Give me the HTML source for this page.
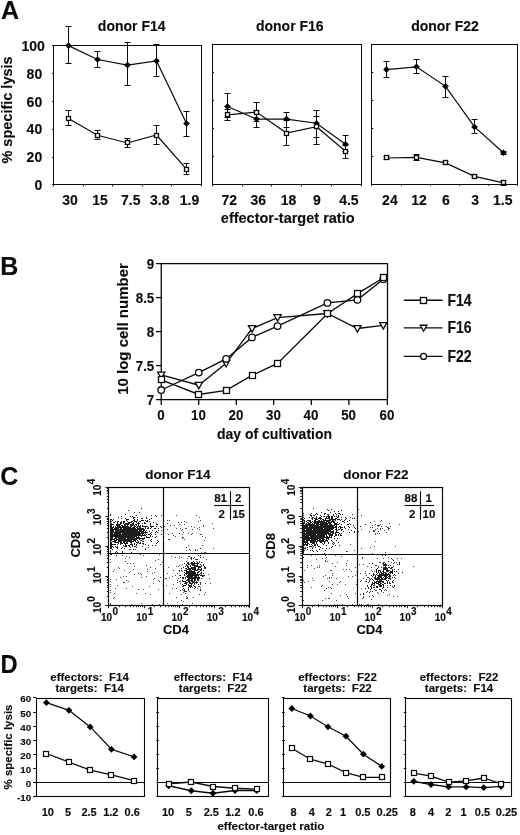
<!DOCTYPE html>
<html><head><meta charset="utf-8"><title>Figure</title>
<style>
html,body{margin:0;padding:0;background:#fff;}
svg{display:block;font-family:"Liberation Sans", sans-serif;fill:#0c0c0c;}
text{stroke:#0c0c0c;stroke-width:0.12px;}
</style></head><body>
<svg width="520" height="835" viewBox="0 0 520 835">
<rect x="0" y="0" width="520" height="835" fill="#fff" stroke="none"/>
<text x="1.00" y="19.20" font-size="25" text-anchor="start" font-weight="bold" stroke="#111" stroke-width="0.4">A</text>
<rect x="53.50" y="45.50" width="148.00" height="139.00" fill="none" stroke="#0a0a0a" stroke-width="1.0"/>
<text x="131.70" y="30.50" font-size="14" text-anchor="middle" font-weight="bold">donor F14</text>
<line x1="52.10" y1="184.50" x2="53.60" y2="184.50" stroke="#0a0a0a" stroke-width="1.0"/>
<text x="42.20" y="190.20" font-size="14" text-anchor="end" font-weight="bold">0</text>
<line x1="52.10" y1="157.50" x2="53.60" y2="157.50" stroke="#0a0a0a" stroke-width="1.0"/>
<text x="42.20" y="162.34" font-size="14" text-anchor="end" font-weight="bold">20</text>
<line x1="52.10" y1="129.50" x2="53.60" y2="129.50" stroke="#0a0a0a" stroke-width="1.0"/>
<text x="42.20" y="134.48" font-size="14" text-anchor="end" font-weight="bold">40</text>
<line x1="52.10" y1="101.50" x2="53.60" y2="101.50" stroke="#0a0a0a" stroke-width="1.0"/>
<text x="42.20" y="106.62" font-size="14" text-anchor="end" font-weight="bold">60</text>
<line x1="52.10" y1="73.50" x2="53.60" y2="73.50" stroke="#0a0a0a" stroke-width="1.0"/>
<text x="42.20" y="78.76" font-size="14" text-anchor="end" font-weight="bold">80</text>
<line x1="52.10" y1="45.50" x2="53.60" y2="45.50" stroke="#0a0a0a" stroke-width="1.0"/>
<text x="44.90" y="51.40" font-size="14" text-anchor="end" font-weight="bold">100</text>
<text x="70.10" y="204.50" font-size="14" text-anchor="middle" font-weight="bold">30</text>
<text x="100.00" y="204.50" font-size="14" text-anchor="middle" font-weight="bold">15</text>
<text x="130.80" y="204.50" font-size="14" text-anchor="middle" font-weight="bold">7.5</text>
<text x="159.70" y="204.50" font-size="14" text-anchor="middle" font-weight="bold">3.8</text>
<text x="189.50" y="204.50" font-size="14" text-anchor="middle" font-weight="bold">1.9</text>
<line x1="53.50" y1="184.90" x2="53.50" y2="186.40" stroke="#0a0a0a" stroke-width="1.0"/>
<line x1="83.50" y1="184.90" x2="83.50" y2="186.40" stroke="#0a0a0a" stroke-width="1.0"/>
<line x1="112.50" y1="184.90" x2="112.50" y2="186.40" stroke="#0a0a0a" stroke-width="1.0"/>
<line x1="142.50" y1="184.90" x2="142.50" y2="186.40" stroke="#0a0a0a" stroke-width="1.0"/>
<line x1="171.50" y1="184.90" x2="171.50" y2="186.40" stroke="#0a0a0a" stroke-width="1.0"/>
<line x1="201.50" y1="184.90" x2="201.50" y2="186.40" stroke="#0a0a0a" stroke-width="1.0"/>
<line x1="68.50" y1="26.10" x2="68.50" y2="63.71" stroke="#0a0a0a" stroke-width="1.0"/>
<line x1="65.50" y1="26.50" x2="71.50" y2="26.50" stroke="#0a0a0a" stroke-width="1.0"/>
<line x1="65.50" y1="63.50" x2="71.50" y2="63.50" stroke="#0a0a0a" stroke-width="1.0"/>
<line x1="68.50" y1="110.79" x2="68.50" y2="125.42" stroke="#0a0a0a" stroke-width="1.0"/>
<line x1="65.50" y1="110.50" x2="71.50" y2="110.50" stroke="#0a0a0a" stroke-width="1.0"/>
<line x1="65.50" y1="125.50" x2="71.50" y2="125.50" stroke="#0a0a0a" stroke-width="1.0"/>
<line x1="97.50" y1="51.17" x2="97.50" y2="67.89" stroke="#0a0a0a" stroke-width="1.0"/>
<line x1="94.50" y1="51.50" x2="100.50" y2="51.50" stroke="#0a0a0a" stroke-width="1.0"/>
<line x1="94.50" y1="67.50" x2="100.50" y2="67.50" stroke="#0a0a0a" stroke-width="1.0"/>
<line x1="97.50" y1="130.43" x2="97.50" y2="139.49" stroke="#0a0a0a" stroke-width="1.0"/>
<line x1="94.50" y1="130.50" x2="100.50" y2="130.50" stroke="#0a0a0a" stroke-width="1.0"/>
<line x1="94.50" y1="139.50" x2="100.50" y2="139.50" stroke="#0a0a0a" stroke-width="1.0"/>
<line x1="127.50" y1="42.81" x2="127.50" y2="86.00" stroke="#0a0a0a" stroke-width="1.0"/>
<line x1="124.50" y1="42.50" x2="130.50" y2="42.50" stroke="#0a0a0a" stroke-width="1.0"/>
<line x1="124.50" y1="85.50" x2="130.50" y2="85.50" stroke="#0a0a0a" stroke-width="1.0"/>
<line x1="127.50" y1="138.79" x2="127.50" y2="147.15" stroke="#0a0a0a" stroke-width="1.0"/>
<line x1="124.50" y1="138.50" x2="130.50" y2="138.50" stroke="#0a0a0a" stroke-width="1.0"/>
<line x1="124.50" y1="147.50" x2="130.50" y2="147.50" stroke="#0a0a0a" stroke-width="1.0"/>
<line x1="156.50" y1="44.21" x2="156.50" y2="76.94" stroke="#0a0a0a" stroke-width="1.0"/>
<line x1="153.50" y1="44.50" x2="159.50" y2="44.50" stroke="#0a0a0a" stroke-width="1.0"/>
<line x1="153.50" y1="76.50" x2="159.50" y2="76.50" stroke="#0a0a0a" stroke-width="1.0"/>
<line x1="156.50" y1="125.98" x2="156.50" y2="144.09" stroke="#0a0a0a" stroke-width="1.0"/>
<line x1="153.50" y1="125.50" x2="159.50" y2="125.50" stroke="#0a0a0a" stroke-width="1.0"/>
<line x1="153.50" y1="144.50" x2="159.50" y2="144.50" stroke="#0a0a0a" stroke-width="1.0"/>
<line x1="186.50" y1="111.07" x2="186.50" y2="136.15" stroke="#0a0a0a" stroke-width="1.0"/>
<line x1="183.50" y1="111.50" x2="189.50" y2="111.50" stroke="#0a0a0a" stroke-width="1.0"/>
<line x1="183.50" y1="136.50" x2="189.50" y2="136.50" stroke="#0a0a0a" stroke-width="1.0"/>
<line x1="186.50" y1="163.59" x2="186.50" y2="174.73" stroke="#0a0a0a" stroke-width="1.0"/>
<line x1="183.50" y1="163.50" x2="189.50" y2="163.50" stroke="#0a0a0a" stroke-width="1.0"/>
<line x1="183.50" y1="174.50" x2="189.50" y2="174.50" stroke="#0a0a0a" stroke-width="1.0"/>
<polyline fill="none" stroke="#0a0a0a" stroke-width="1.2" points="68.50,45.60 97.50,59.53 127.50,65.10 156.50,60.92 186.50,123.61"/>
<polyline fill="none" stroke="#0a0a0a" stroke-width="1.2" points="68.50,118.45 97.50,135.31 127.50,142.97 156.50,135.03 186.50,169.16"/>
<path d="M68.50 42.30L71.80 45.60L68.50 48.90L65.20 45.60Z" fill="#000"/>
<path d="M97.50 56.23L100.80 59.53L97.50 62.83L94.20 59.53Z" fill="#000"/>
<path d="M127.50 61.80L130.80 65.10L127.50 68.40L124.20 65.10Z" fill="#000"/>
<path d="M156.50 57.62L159.80 60.92L156.50 64.22L153.20 60.92Z" fill="#000"/>
<path d="M186.50 120.31L189.80 123.61L186.50 126.91L183.20 123.61Z" fill="#000"/>
<rect x="66.50" y="116.50" width="4" height="4" fill="#fff" stroke="#0a0a0a" stroke-width="1.3"/>
<rect x="95.50" y="133.50" width="4" height="4" fill="#fff" stroke="#0a0a0a" stroke-width="1.3"/>
<rect x="125.50" y="140.50" width="4" height="4" fill="#fff" stroke="#0a0a0a" stroke-width="1.3"/>
<rect x="154.50" y="133.50" width="4" height="4" fill="#fff" stroke="#0a0a0a" stroke-width="1.3"/>
<rect x="184.50" y="167.50" width="4" height="4" fill="#fff" stroke="#0a0a0a" stroke-width="1.3"/>
<rect x="212.50" y="44.50" width="149.00" height="140.00" fill="none" stroke="#0a0a0a" stroke-width="1.0"/>
<text x="289.80" y="30.50" font-size="14" text-anchor="middle" font-weight="bold">donor F16</text>
<line x1="212.50" y1="184.50" x2="214.00" y2="184.50" stroke="#0a0a0a" stroke-width="1.0"/>
<line x1="212.50" y1="156.50" x2="214.00" y2="156.50" stroke="#0a0a0a" stroke-width="1.0"/>
<line x1="212.50" y1="128.50" x2="214.00" y2="128.50" stroke="#0a0a0a" stroke-width="1.0"/>
<line x1="212.50" y1="100.50" x2="214.00" y2="100.50" stroke="#0a0a0a" stroke-width="1.0"/>
<line x1="212.50" y1="72.50" x2="214.00" y2="72.50" stroke="#0a0a0a" stroke-width="1.0"/>
<line x1="212.50" y1="44.50" x2="214.00" y2="44.50" stroke="#0a0a0a" stroke-width="1.0"/>
<text x="229.20" y="204.50" font-size="14" text-anchor="middle" font-weight="bold">72</text>
<text x="258.20" y="204.50" font-size="14" text-anchor="middle" font-weight="bold">36</text>
<text x="288.50" y="204.50" font-size="14" text-anchor="middle" font-weight="bold">18</text>
<text x="316.80" y="204.50" font-size="14" text-anchor="middle" font-weight="bold">9</text>
<text x="348.90" y="204.50" font-size="14" text-anchor="middle" font-weight="bold">4.5</text>
<line x1="212.50" y1="184.90" x2="212.50" y2="186.40" stroke="#0a0a0a" stroke-width="1.0"/>
<line x1="242.50" y1="184.90" x2="242.50" y2="186.40" stroke="#0a0a0a" stroke-width="1.0"/>
<line x1="271.50" y1="184.90" x2="271.50" y2="186.40" stroke="#0a0a0a" stroke-width="1.0"/>
<line x1="301.50" y1="184.90" x2="301.50" y2="186.40" stroke="#0a0a0a" stroke-width="1.0"/>
<line x1="331.50" y1="184.90" x2="331.50" y2="186.40" stroke="#0a0a0a" stroke-width="1.0"/>
<line x1="361.50" y1="184.90" x2="361.50" y2="186.40" stroke="#0a0a0a" stroke-width="1.0"/>
<line x1="227.50" y1="93.83" x2="227.50" y2="117.65" stroke="#0a0a0a" stroke-width="1.0"/>
<line x1="224.50" y1="93.50" x2="230.50" y2="93.50" stroke="#0a0a0a" stroke-width="1.0"/>
<line x1="224.50" y1="117.50" x2="230.50" y2="117.50" stroke="#0a0a0a" stroke-width="1.0"/>
<line x1="227.50" y1="109.25" x2="227.50" y2="120.45" stroke="#0a0a0a" stroke-width="1.0"/>
<line x1="224.50" y1="109.50" x2="230.50" y2="109.50" stroke="#0a0a0a" stroke-width="1.0"/>
<line x1="224.50" y1="120.50" x2="230.50" y2="120.50" stroke="#0a0a0a" stroke-width="1.0"/>
<line x1="256.50" y1="110.65" x2="256.50" y2="127.46" stroke="#0a0a0a" stroke-width="1.0"/>
<line x1="253.50" y1="110.50" x2="259.50" y2="110.50" stroke="#0a0a0a" stroke-width="1.0"/>
<line x1="253.50" y1="127.50" x2="259.50" y2="127.50" stroke="#0a0a0a" stroke-width="1.0"/>
<line x1="256.50" y1="102.24" x2="256.50" y2="121.85" stroke="#0a0a0a" stroke-width="1.0"/>
<line x1="253.50" y1="102.50" x2="259.50" y2="102.50" stroke="#0a0a0a" stroke-width="1.0"/>
<line x1="253.50" y1="121.50" x2="259.50" y2="121.50" stroke="#0a0a0a" stroke-width="1.0"/>
<line x1="286.50" y1="112.05" x2="286.50" y2="127.46" stroke="#0a0a0a" stroke-width="1.0"/>
<line x1="283.50" y1="112.50" x2="289.50" y2="112.50" stroke="#0a0a0a" stroke-width="1.0"/>
<line x1="283.50" y1="127.50" x2="289.50" y2="127.50" stroke="#0a0a0a" stroke-width="1.0"/>
<line x1="286.50" y1="120.45" x2="286.50" y2="145.67" stroke="#0a0a0a" stroke-width="1.0"/>
<line x1="283.50" y1="120.50" x2="289.50" y2="120.50" stroke="#0a0a0a" stroke-width="1.0"/>
<line x1="283.50" y1="145.50" x2="289.50" y2="145.50" stroke="#0a0a0a" stroke-width="1.0"/>
<line x1="316.50" y1="110.65" x2="316.50" y2="137.27" stroke="#0a0a0a" stroke-width="1.0"/>
<line x1="313.50" y1="110.50" x2="319.50" y2="110.50" stroke="#0a0a0a" stroke-width="1.0"/>
<line x1="313.50" y1="137.50" x2="319.50" y2="137.50" stroke="#0a0a0a" stroke-width="1.0"/>
<line x1="316.50" y1="116.25" x2="316.50" y2="144.27" stroke="#0a0a0a" stroke-width="1.0"/>
<line x1="313.50" y1="116.50" x2="319.50" y2="116.50" stroke="#0a0a0a" stroke-width="1.0"/>
<line x1="313.50" y1="144.50" x2="319.50" y2="144.50" stroke="#0a0a0a" stroke-width="1.0"/>
<line x1="345.50" y1="135.87" x2="345.50" y2="151.28" stroke="#0a0a0a" stroke-width="1.0"/>
<line x1="342.50" y1="135.50" x2="348.50" y2="135.50" stroke="#0a0a0a" stroke-width="1.0"/>
<line x1="342.50" y1="151.50" x2="348.50" y2="151.50" stroke="#0a0a0a" stroke-width="1.0"/>
<line x1="345.50" y1="145.67" x2="345.50" y2="158.28" stroke="#0a0a0a" stroke-width="1.0"/>
<line x1="342.50" y1="145.50" x2="348.50" y2="145.50" stroke="#0a0a0a" stroke-width="1.0"/>
<line x1="342.50" y1="158.50" x2="348.50" y2="158.50" stroke="#0a0a0a" stroke-width="1.0"/>
<polyline fill="none" stroke="#0a0a0a" stroke-width="1.2" points="227.50,106.44 256.50,119.05 286.50,119.05 316.50,123.26 345.50,144.27"/>
<polyline fill="none" stroke="#0a0a0a" stroke-width="1.2" points="227.50,114.85 256.50,112.05 286.50,133.06 316.50,126.76 345.50,151.28"/>
<path d="M227.50 103.14L230.80 106.44L227.50 109.74L224.20 106.44Z" fill="#000"/>
<path d="M256.50 115.75L259.80 119.05L256.50 122.35L253.20 119.05Z" fill="#000"/>
<path d="M286.50 115.75L289.80 119.05L286.50 122.35L283.20 119.05Z" fill="#000"/>
<path d="M316.50 119.96L319.80 123.26L316.50 126.56L313.20 123.26Z" fill="#000"/>
<path d="M345.50 140.97L348.80 144.27L345.50 147.57L342.20 144.27Z" fill="#000"/>
<rect x="225.50" y="112.50" width="4" height="4" fill="#fff" stroke="#0a0a0a" stroke-width="1.3"/>
<rect x="254.50" y="110.50" width="4" height="4" fill="#fff" stroke="#0a0a0a" stroke-width="1.3"/>
<rect x="284.50" y="131.50" width="4" height="4" fill="#fff" stroke="#0a0a0a" stroke-width="1.3"/>
<rect x="314.50" y="124.50" width="4" height="4" fill="#fff" stroke="#0a0a0a" stroke-width="1.3"/>
<rect x="343.50" y="149.50" width="4" height="4" fill="#fff" stroke="#0a0a0a" stroke-width="1.3"/>
<rect x="371.50" y="44.50" width="146.00" height="140.00" fill="none" stroke="#0a0a0a" stroke-width="1.0"/>
<text x="445.00" y="30.80" font-size="14" text-anchor="middle" font-weight="bold">donor F22</text>
<line x1="371.80" y1="184.50" x2="373.30" y2="184.50" stroke="#0a0a0a" stroke-width="1.0"/>
<line x1="371.80" y1="156.50" x2="373.30" y2="156.50" stroke="#0a0a0a" stroke-width="1.0"/>
<line x1="371.80" y1="128.50" x2="373.30" y2="128.50" stroke="#0a0a0a" stroke-width="1.0"/>
<line x1="371.80" y1="100.50" x2="373.30" y2="100.50" stroke="#0a0a0a" stroke-width="1.0"/>
<line x1="371.80" y1="72.50" x2="373.30" y2="72.50" stroke="#0a0a0a" stroke-width="1.0"/>
<line x1="371.80" y1="44.50" x2="373.30" y2="44.50" stroke="#0a0a0a" stroke-width="1.0"/>
<text x="389.90" y="204.50" font-size="14" text-anchor="middle" font-weight="bold">24</text>
<text x="419.10" y="204.50" font-size="14" text-anchor="middle" font-weight="bold">12</text>
<text x="445.80" y="204.50" font-size="14" text-anchor="middle" font-weight="bold">6</text>
<text x="475.20" y="204.50" font-size="14" text-anchor="middle" font-weight="bold">3</text>
<text x="502.80" y="204.50" font-size="14" text-anchor="middle" font-weight="bold">1.5</text>
<line x1="371.50" y1="184.30" x2="371.50" y2="185.80" stroke="#0a0a0a" stroke-width="1.0"/>
<line x1="401.50" y1="184.30" x2="401.50" y2="185.80" stroke="#0a0a0a" stroke-width="1.0"/>
<line x1="430.50" y1="184.30" x2="430.50" y2="185.80" stroke="#0a0a0a" stroke-width="1.0"/>
<line x1="459.50" y1="184.30" x2="459.50" y2="185.80" stroke="#0a0a0a" stroke-width="1.0"/>
<line x1="488.50" y1="184.30" x2="488.50" y2="185.80" stroke="#0a0a0a" stroke-width="1.0"/>
<line x1="517.50" y1="184.30" x2="517.50" y2="185.80" stroke="#0a0a0a" stroke-width="1.0"/>
<line x1="386.50" y1="61.19" x2="386.50" y2="77.98" stroke="#0a0a0a" stroke-width="1.0"/>
<line x1="383.50" y1="61.50" x2="389.50" y2="61.50" stroke="#0a0a0a" stroke-width="1.0"/>
<line x1="383.50" y1="77.50" x2="389.50" y2="77.50" stroke="#0a0a0a" stroke-width="1.0"/>
<line x1="386.50" y1="156.60" x2="386.50" y2="159.40" stroke="#0a0a0a" stroke-width="1.0"/>
<line x1="383.50" y1="156.50" x2="389.50" y2="156.50" stroke="#0a0a0a" stroke-width="1.0"/>
<line x1="383.50" y1="159.50" x2="389.50" y2="159.50" stroke="#0a0a0a" stroke-width="1.0"/>
<line x1="416.50" y1="59.79" x2="416.50" y2="73.78" stroke="#0a0a0a" stroke-width="1.0"/>
<line x1="413.50" y1="59.50" x2="419.50" y2="59.50" stroke="#0a0a0a" stroke-width="1.0"/>
<line x1="413.50" y1="73.50" x2="419.50" y2="73.50" stroke="#0a0a0a" stroke-width="1.0"/>
<line x1="416.50" y1="154.50" x2="416.50" y2="160.80" stroke="#0a0a0a" stroke-width="1.0"/>
<line x1="413.50" y1="154.50" x2="419.50" y2="154.50" stroke="#0a0a0a" stroke-width="1.0"/>
<line x1="413.50" y1="160.50" x2="419.50" y2="160.50" stroke="#0a0a0a" stroke-width="1.0"/>
<line x1="445.50" y1="76.58" x2="445.50" y2="97.56" stroke="#0a0a0a" stroke-width="1.0"/>
<line x1="442.50" y1="76.50" x2="448.50" y2="76.50" stroke="#0a0a0a" stroke-width="1.0"/>
<line x1="442.50" y1="97.50" x2="448.50" y2="97.50" stroke="#0a0a0a" stroke-width="1.0"/>
<line x1="445.50" y1="161.50" x2="445.50" y2="164.29" stroke="#0a0a0a" stroke-width="1.0"/>
<line x1="442.50" y1="161.50" x2="448.50" y2="161.50" stroke="#0a0a0a" stroke-width="1.0"/>
<line x1="442.50" y1="164.50" x2="448.50" y2="164.50" stroke="#0a0a0a" stroke-width="1.0"/>
<line x1="474.50" y1="119.95" x2="474.50" y2="133.94" stroke="#0a0a0a" stroke-width="1.0"/>
<line x1="471.50" y1="119.50" x2="477.50" y2="119.50" stroke="#0a0a0a" stroke-width="1.0"/>
<line x1="471.50" y1="133.50" x2="477.50" y2="133.50" stroke="#0a0a0a" stroke-width="1.0"/>
<line x1="474.50" y1="174.93" x2="474.50" y2="177.72" stroke="#0a0a0a" stroke-width="1.0"/>
<line x1="471.50" y1="174.50" x2="477.50" y2="174.50" stroke="#0a0a0a" stroke-width="1.0"/>
<line x1="471.50" y1="177.50" x2="477.50" y2="177.50" stroke="#0a0a0a" stroke-width="1.0"/>
<line x1="503.50" y1="151.42" x2="503.50" y2="154.22" stroke="#0a0a0a" stroke-width="1.0"/>
<line x1="500.50" y1="151.50" x2="506.50" y2="151.50" stroke="#0a0a0a" stroke-width="1.0"/>
<line x1="500.50" y1="154.50" x2="506.50" y2="154.50" stroke="#0a0a0a" stroke-width="1.0"/>
<line x1="503.50" y1="180.10" x2="503.50" y2="185.42" stroke="#0a0a0a" stroke-width="1.0"/>
<line x1="500.50" y1="180.50" x2="506.50" y2="180.50" stroke="#0a0a0a" stroke-width="1.0"/>
<line x1="500.50" y1="185.50" x2="506.50" y2="185.50" stroke="#0a0a0a" stroke-width="1.0"/>
<polyline fill="none" stroke="#0a0a0a" stroke-width="1.2" points="386.50,69.58 416.50,66.78 445.50,86.37 474.50,126.94 503.50,152.82"/>
<polyline fill="none" stroke="#0a0a0a" stroke-width="1.2" points="386.50,158.00 416.50,157.30 445.50,162.90 474.50,176.33 503.50,182.90"/>
<path d="M386.50 66.28L389.80 69.58L386.50 72.88L383.20 69.58Z" fill="#000"/>
<path d="M416.50 63.48L419.80 66.78L416.50 70.08L413.20 66.78Z" fill="#000"/>
<path d="M445.50 83.07L448.80 86.37L445.50 89.67L442.20 86.37Z" fill="#000"/>
<path d="M474.50 123.64L477.80 126.94L474.50 130.24L471.20 126.94Z" fill="#000"/>
<path d="M503.50 149.52L506.80 152.82L503.50 156.12L500.20 152.82Z" fill="#000"/>
<rect x="384.50" y="155.50" width="4" height="4" fill="#fff" stroke="#0a0a0a" stroke-width="1.3"/>
<rect x="414.50" y="155.50" width="4" height="4" fill="#fff" stroke="#0a0a0a" stroke-width="1.3"/>
<rect x="443.50" y="160.50" width="4" height="4" fill="#fff" stroke="#0a0a0a" stroke-width="1.3"/>
<rect x="472.50" y="174.50" width="4" height="4" fill="#fff" stroke="#0a0a0a" stroke-width="1.3"/>
<rect x="501.50" y="180.50" width="4" height="4" fill="#fff" stroke="#0a0a0a" stroke-width="1.3"/>
<text x="12.20" y="110.00" font-size="14.5" text-anchor="middle" font-weight="bold" transform="rotate(-90 12.20 110.00)">% specific lysis</text>
<text x="287.70" y="223.00" font-size="14.5" text-anchor="middle" font-weight="bold">effector-target ratio</text>
<text x="0.30" y="275.20" font-size="25" text-anchor="start" font-weight="bold" stroke="#111" stroke-width="0.4">B</text>
<rect x="161.25" y="263.60" width="226.25" height="136.00" fill="none" stroke="#0a0a0a" stroke-width="1.3"/>
<line x1="155.95" y1="399.60" x2="161.25" y2="399.60" stroke="#0a0a0a" stroke-width="1.3"/>
<text transform="translate(154.25 404.50) scale(0.92 1)" font-size="14.5" text-anchor="end" font-weight="bold">7</text>
<line x1="155.95" y1="365.60" x2="161.25" y2="365.60" stroke="#0a0a0a" stroke-width="1.3"/>
<text transform="translate(154.25 370.50) scale(0.92 1)" font-size="14.5" text-anchor="end" font-weight="bold">7.5</text>
<line x1="155.95" y1="331.60" x2="161.25" y2="331.60" stroke="#0a0a0a" stroke-width="1.3"/>
<text transform="translate(154.25 336.50) scale(0.92 1)" font-size="14.5" text-anchor="end" font-weight="bold">8</text>
<line x1="155.95" y1="297.60" x2="161.25" y2="297.60" stroke="#0a0a0a" stroke-width="1.3"/>
<text transform="translate(154.25 302.50) scale(0.92 1)" font-size="14.5" text-anchor="end" font-weight="bold">8.5</text>
<line x1="155.95" y1="263.60" x2="161.25" y2="263.60" stroke="#0a0a0a" stroke-width="1.3"/>
<text transform="translate(154.25 268.50) scale(0.92 1)" font-size="14.5" text-anchor="end" font-weight="bold">9</text>
<line x1="161.25" y1="399.60" x2="161.25" y2="404.90" stroke="#0a0a0a" stroke-width="1.3"/>
<text transform="translate(160.95 420.30) scale(0.92 1)" font-size="14.5" text-anchor="middle" font-weight="bold">0</text>
<line x1="198.70" y1="399.60" x2="198.70" y2="404.90" stroke="#0a0a0a" stroke-width="1.3"/>
<text transform="translate(198.40 420.30) scale(0.92 1)" font-size="14.5" text-anchor="middle" font-weight="bold">10</text>
<line x1="236.30" y1="399.60" x2="236.30" y2="404.90" stroke="#0a0a0a" stroke-width="1.3"/>
<text transform="translate(236.00 420.30) scale(0.92 1)" font-size="14.5" text-anchor="middle" font-weight="bold">20</text>
<line x1="273.70" y1="399.60" x2="273.70" y2="404.90" stroke="#0a0a0a" stroke-width="1.3"/>
<text transform="translate(273.40 420.30) scale(0.92 1)" font-size="14.5" text-anchor="middle" font-weight="bold">30</text>
<line x1="311.30" y1="399.60" x2="311.30" y2="404.90" stroke="#0a0a0a" stroke-width="1.3"/>
<text transform="translate(311.00 420.30) scale(0.92 1)" font-size="14.5" text-anchor="middle" font-weight="bold">40</text>
<line x1="348.90" y1="399.60" x2="348.90" y2="404.90" stroke="#0a0a0a" stroke-width="1.3"/>
<text transform="translate(348.60 420.30) scale(0.92 1)" font-size="14.5" text-anchor="middle" font-weight="bold">50</text>
<line x1="387.30" y1="399.60" x2="387.30" y2="404.90" stroke="#0a0a0a" stroke-width="1.3"/>
<text transform="translate(387.00 420.30) scale(0.92 1)" font-size="14.5" text-anchor="middle" font-weight="bold">60</text>
<text x="127.60" y="329.00" font-size="15" text-anchor="middle" font-weight="bold" transform="rotate(-90 127.60 329.00)">10 log cell number</text>
<text x="274.50" y="439.30" font-size="14" text-anchor="middle" font-weight="bold">day of cultivation</text>
<polyline fill="none" stroke="#0a0a0a" stroke-width="1.3" points="161.25,379.78 198.76,394.47 226.14,390.37 252.02,375.34 277.53,363.37 327.41,313.82 357.42,293.66 383.30,277.94"/>
<polyline fill="none" stroke="#0a0a0a" stroke-width="1.3" points="161.25,374.99 198.76,385.25 226.14,363.37 252.02,328.52 277.53,317.58 327.41,313.48 357.42,328.52 383.30,325.44"/>
<polyline fill="none" stroke="#0a0a0a" stroke-width="1.3" points="161.25,390.03 198.76,372.60 226.14,358.93 252.02,337.40 277.53,326.12 327.41,302.88 357.42,299.81 383.30,279.30"/>
<path d="M157.65 372.11L164.85 372.11L161.25 378.59Z" fill="#fff" stroke="#0a0a0a" stroke-width="1.3"/>
<path d="M195.16 382.37L202.36 382.37L198.76 388.85Z" fill="#fff" stroke="#0a0a0a" stroke-width="1.3"/>
<path d="M222.54 360.49L229.74 360.49L226.14 366.97Z" fill="#fff" stroke="#0a0a0a" stroke-width="1.3"/>
<path d="M248.42 325.64L255.62 325.64L252.02 332.12Z" fill="#fff" stroke="#0a0a0a" stroke-width="1.3"/>
<path d="M273.93 314.70L281.13 314.70L277.53 321.18Z" fill="#fff" stroke="#0a0a0a" stroke-width="1.3"/>
<path d="M323.81 310.60L331.01 310.60L327.41 317.08Z" fill="#fff" stroke="#0a0a0a" stroke-width="1.3"/>
<path d="M353.82 325.64L361.02 325.64L357.42 332.12Z" fill="#fff" stroke="#0a0a0a" stroke-width="1.3"/>
<path d="M379.70 322.56L386.90 322.56L383.30 329.04Z" fill="#fff" stroke="#0a0a0a" stroke-width="1.3"/>
<circle cx="161.25" cy="390.03" r="3.3" fill="#fff" stroke="#0a0a0a" stroke-width="1.3"/>
<circle cx="198.76" cy="372.60" r="3.3" fill="#fff" stroke="#0a0a0a" stroke-width="1.3"/>
<circle cx="226.14" cy="358.93" r="3.3" fill="#fff" stroke="#0a0a0a" stroke-width="1.3"/>
<circle cx="252.02" cy="337.40" r="3.3" fill="#fff" stroke="#0a0a0a" stroke-width="1.3"/>
<circle cx="277.53" cy="326.12" r="3.3" fill="#fff" stroke="#0a0a0a" stroke-width="1.3"/>
<circle cx="327.41" cy="302.88" r="3.3" fill="#fff" stroke="#0a0a0a" stroke-width="1.3"/>
<circle cx="357.42" cy="299.81" r="3.3" fill="#fff" stroke="#0a0a0a" stroke-width="1.3"/>
<circle cx="383.30" cy="279.30" r="3.3" fill="#fff" stroke="#0a0a0a" stroke-width="1.3"/>
<rect x="158.50" y="376.50" width="6" height="6" fill="#fff" stroke="#0a0a0a" stroke-width="1.3"/>
<rect x="195.50" y="391.50" width="6" height="6" fill="#fff" stroke="#0a0a0a" stroke-width="1.3"/>
<rect x="223.50" y="387.50" width="6" height="6" fill="#fff" stroke="#0a0a0a" stroke-width="1.3"/>
<rect x="249.50" y="372.50" width="6" height="6" fill="#fff" stroke="#0a0a0a" stroke-width="1.3"/>
<rect x="274.50" y="360.50" width="6" height="6" fill="#fff" stroke="#0a0a0a" stroke-width="1.3"/>
<rect x="324.50" y="310.50" width="6" height="6" fill="#fff" stroke="#0a0a0a" stroke-width="1.3"/>
<rect x="354.50" y="290.50" width="6" height="6" fill="#fff" stroke="#0a0a0a" stroke-width="1.3"/>
<rect x="380.50" y="274.50" width="6" height="6" fill="#fff" stroke="#0a0a0a" stroke-width="1.3"/>
<line x1="403.70" y1="300.20" x2="442.50" y2="300.20" stroke="#0a0a0a" stroke-width="1.4"/>
<rect x="420.50" y="297.50" width="6" height="6" fill="#fff" stroke="#0a0a0a" stroke-width="1.3"/>
<text transform="translate(447.40 305.60) scale(0.885 1)" font-size="15.8" text-anchor="start" font-weight="bold">F14</text>
<line x1="403.70" y1="327.90" x2="442.50" y2="327.90" stroke="#0a0a0a" stroke-width="1.4"/>
<path d="M420.30 325.26L426.90 325.26L423.60 331.20Z" fill="#fff" stroke="#0a0a0a" stroke-width="1.3"/>
<text transform="translate(447.40 333.30) scale(0.885 1)" font-size="15.8" text-anchor="start" font-weight="bold">F16</text>
<line x1="403.70" y1="356.40" x2="442.50" y2="356.40" stroke="#0a0a0a" stroke-width="1.4"/>
<circle cx="423.60" cy="356.40" r="3.0" fill="#fff" stroke="#0a0a0a" stroke-width="1.3"/>
<text transform="translate(447.40 361.80) scale(0.885 1)" font-size="15.8" text-anchor="start" font-weight="bold">F22</text>
<text x="0.20" y="485.30" font-size="25" text-anchor="start" font-weight="bold" stroke="#111" stroke-width="0.4">C</text>
<rect x="108.50" y="487.50" width="141.00" height="118.00" fill="none" stroke="#0a0a0a" stroke-width="1.2"/>
<line x1="163.50" y1="487.30" x2="163.50" y2="605.80" stroke="#0a0a0a" stroke-width="1.2"/>
<line x1="108.80" y1="553.50" x2="249.80" y2="553.50" stroke="#0a0a0a" stroke-width="1.2"/>
<text x="178.00" y="478.60" font-size="13.5" text-anchor="middle" font-weight="bold">donor F14</text>
<line x1="108.50" y1="605.80" x2="108.50" y2="608.25" stroke="#0a0a0a" stroke-width="0.9"/>
<line x1="108.80" y1="605.50" x2="105.30" y2="605.50" stroke="#0a0a0a" stroke-width="0.9"/>
<line x1="119.50" y1="605.80" x2="119.50" y2="607.20" stroke="#0a0a0a" stroke-width="0.9"/>
<line x1="108.80" y1="596.50" x2="106.80" y2="596.50" stroke="#0a0a0a" stroke-width="0.9"/>
<line x1="125.50" y1="605.80" x2="125.50" y2="607.20" stroke="#0a0a0a" stroke-width="0.9"/>
<line x1="108.80" y1="591.50" x2="106.80" y2="591.50" stroke="#0a0a0a" stroke-width="0.9"/>
<line x1="130.50" y1="605.80" x2="130.50" y2="607.20" stroke="#0a0a0a" stroke-width="0.9"/>
<line x1="108.80" y1="587.50" x2="106.80" y2="587.50" stroke="#0a0a0a" stroke-width="0.9"/>
<line x1="133.50" y1="605.80" x2="133.50" y2="607.20" stroke="#0a0a0a" stroke-width="0.9"/>
<line x1="108.80" y1="585.50" x2="106.80" y2="585.50" stroke="#0a0a0a" stroke-width="0.9"/>
<line x1="136.50" y1="605.80" x2="136.50" y2="607.20" stroke="#0a0a0a" stroke-width="0.9"/>
<line x1="108.80" y1="582.50" x2="106.80" y2="582.50" stroke="#0a0a0a" stroke-width="0.9"/>
<line x1="138.50" y1="605.80" x2="138.50" y2="607.20" stroke="#0a0a0a" stroke-width="0.9"/>
<line x1="108.80" y1="580.50" x2="106.80" y2="580.50" stroke="#0a0a0a" stroke-width="0.9"/>
<line x1="140.50" y1="605.80" x2="140.50" y2="607.20" stroke="#0a0a0a" stroke-width="0.9"/>
<line x1="108.80" y1="579.50" x2="106.80" y2="579.50" stroke="#0a0a0a" stroke-width="0.9"/>
<line x1="142.50" y1="605.80" x2="142.50" y2="607.20" stroke="#0a0a0a" stroke-width="0.9"/>
<line x1="108.80" y1="577.50" x2="106.80" y2="577.50" stroke="#0a0a0a" stroke-width="0.9"/>
<line x1="144.50" y1="605.80" x2="144.50" y2="608.25" stroke="#0a0a0a" stroke-width="0.9"/>
<line x1="108.80" y1="576.50" x2="105.30" y2="576.50" stroke="#0a0a0a" stroke-width="0.9"/>
<line x1="154.50" y1="605.80" x2="154.50" y2="607.20" stroke="#0a0a0a" stroke-width="0.9"/>
<line x1="108.80" y1="567.50" x2="106.80" y2="567.50" stroke="#0a0a0a" stroke-width="0.9"/>
<line x1="160.50" y1="605.80" x2="160.50" y2="607.20" stroke="#0a0a0a" stroke-width="0.9"/>
<line x1="108.80" y1="562.50" x2="106.80" y2="562.50" stroke="#0a0a0a" stroke-width="0.9"/>
<line x1="165.50" y1="605.80" x2="165.50" y2="607.20" stroke="#0a0a0a" stroke-width="0.9"/>
<line x1="108.80" y1="558.50" x2="106.80" y2="558.50" stroke="#0a0a0a" stroke-width="0.9"/>
<line x1="168.50" y1="605.80" x2="168.50" y2="607.20" stroke="#0a0a0a" stroke-width="0.9"/>
<line x1="108.80" y1="555.50" x2="106.80" y2="555.50" stroke="#0a0a0a" stroke-width="0.9"/>
<line x1="171.50" y1="605.80" x2="171.50" y2="607.20" stroke="#0a0a0a" stroke-width="0.9"/>
<line x1="108.80" y1="553.50" x2="106.80" y2="553.50" stroke="#0a0a0a" stroke-width="0.9"/>
<line x1="173.50" y1="605.80" x2="173.50" y2="607.20" stroke="#0a0a0a" stroke-width="0.9"/>
<line x1="108.80" y1="551.50" x2="106.80" y2="551.50" stroke="#0a0a0a" stroke-width="0.9"/>
<line x1="175.50" y1="605.80" x2="175.50" y2="607.20" stroke="#0a0a0a" stroke-width="0.9"/>
<line x1="108.80" y1="549.50" x2="106.80" y2="549.50" stroke="#0a0a0a" stroke-width="0.9"/>
<line x1="177.50" y1="605.80" x2="177.50" y2="607.20" stroke="#0a0a0a" stroke-width="0.9"/>
<line x1="108.80" y1="547.50" x2="106.80" y2="547.50" stroke="#0a0a0a" stroke-width="0.9"/>
<line x1="179.50" y1="605.80" x2="179.50" y2="608.25" stroke="#0a0a0a" stroke-width="0.9"/>
<line x1="108.80" y1="546.50" x2="105.30" y2="546.50" stroke="#0a0a0a" stroke-width="0.9"/>
<line x1="189.50" y1="605.80" x2="189.50" y2="607.20" stroke="#0a0a0a" stroke-width="0.9"/>
<line x1="108.80" y1="537.50" x2="106.80" y2="537.50" stroke="#0a0a0a" stroke-width="0.9"/>
<line x1="196.50" y1="605.80" x2="196.50" y2="607.20" stroke="#0a0a0a" stroke-width="0.9"/>
<line x1="108.80" y1="532.50" x2="106.80" y2="532.50" stroke="#0a0a0a" stroke-width="0.9"/>
<line x1="200.50" y1="605.80" x2="200.50" y2="607.20" stroke="#0a0a0a" stroke-width="0.9"/>
<line x1="108.80" y1="528.50" x2="106.80" y2="528.50" stroke="#0a0a0a" stroke-width="0.9"/>
<line x1="203.50" y1="605.80" x2="203.50" y2="607.20" stroke="#0a0a0a" stroke-width="0.9"/>
<line x1="108.80" y1="525.50" x2="106.80" y2="525.50" stroke="#0a0a0a" stroke-width="0.9"/>
<line x1="206.50" y1="605.80" x2="206.50" y2="607.20" stroke="#0a0a0a" stroke-width="0.9"/>
<line x1="108.80" y1="523.50" x2="106.80" y2="523.50" stroke="#0a0a0a" stroke-width="0.9"/>
<line x1="209.50" y1="605.80" x2="209.50" y2="607.20" stroke="#0a0a0a" stroke-width="0.9"/>
<line x1="108.80" y1="521.50" x2="106.80" y2="521.50" stroke="#0a0a0a" stroke-width="0.9"/>
<line x1="211.50" y1="605.80" x2="211.50" y2="607.20" stroke="#0a0a0a" stroke-width="0.9"/>
<line x1="108.80" y1="519.50" x2="106.80" y2="519.50" stroke="#0a0a0a" stroke-width="0.9"/>
<line x1="212.50" y1="605.80" x2="212.50" y2="607.20" stroke="#0a0a0a" stroke-width="0.9"/>
<line x1="108.80" y1="518.50" x2="106.80" y2="518.50" stroke="#0a0a0a" stroke-width="0.9"/>
<line x1="214.50" y1="605.80" x2="214.50" y2="608.25" stroke="#0a0a0a" stroke-width="0.9"/>
<line x1="108.80" y1="516.50" x2="105.30" y2="516.50" stroke="#0a0a0a" stroke-width="0.9"/>
<line x1="225.50" y1="605.80" x2="225.50" y2="607.20" stroke="#0a0a0a" stroke-width="0.9"/>
<line x1="108.80" y1="508.50" x2="106.80" y2="508.50" stroke="#0a0a0a" stroke-width="0.9"/>
<line x1="231.50" y1="605.80" x2="231.50" y2="607.20" stroke="#0a0a0a" stroke-width="0.9"/>
<line x1="108.80" y1="502.50" x2="106.80" y2="502.50" stroke="#0a0a0a" stroke-width="0.9"/>
<line x1="235.50" y1="605.80" x2="235.50" y2="607.20" stroke="#0a0a0a" stroke-width="0.9"/>
<line x1="108.80" y1="499.50" x2="106.80" y2="499.50" stroke="#0a0a0a" stroke-width="0.9"/>
<line x1="239.50" y1="605.80" x2="239.50" y2="607.20" stroke="#0a0a0a" stroke-width="0.9"/>
<line x1="108.80" y1="496.50" x2="106.80" y2="496.50" stroke="#0a0a0a" stroke-width="0.9"/>
<line x1="241.50" y1="605.80" x2="241.50" y2="607.20" stroke="#0a0a0a" stroke-width="0.9"/>
<line x1="108.80" y1="493.50" x2="106.80" y2="493.50" stroke="#0a0a0a" stroke-width="0.9"/>
<line x1="244.50" y1="605.80" x2="244.50" y2="607.20" stroke="#0a0a0a" stroke-width="0.9"/>
<line x1="108.80" y1="491.50" x2="106.80" y2="491.50" stroke="#0a0a0a" stroke-width="0.9"/>
<line x1="246.50" y1="605.80" x2="246.50" y2="607.20" stroke="#0a0a0a" stroke-width="0.9"/>
<line x1="108.80" y1="490.50" x2="106.80" y2="490.50" stroke="#0a0a0a" stroke-width="0.9"/>
<line x1="248.50" y1="605.80" x2="248.50" y2="607.20" stroke="#0a0a0a" stroke-width="0.9"/>
<line x1="108.80" y1="488.50" x2="106.80" y2="488.50" stroke="#0a0a0a" stroke-width="0.9"/>
<line x1="249.50" y1="605.80" x2="249.50" y2="608.30" stroke="#0a0a0a" stroke-width="0.9"/>
<line x1="108.80" y1="487.50" x2="105.30" y2="487.50" stroke="#0a0a0a" stroke-width="0.9"/>
<text x="101.00" y="621.00" font-size="10" text-anchor="start" font-weight="bold" stroke="#111" stroke-width="0.35">10<tspan dx="0.3" dy="-5.6" font-size="10">0</tspan></text>
<text x="100.80" y="613.10" font-size="10" text-anchor="start" font-weight="bold" stroke="#111" stroke-width="0.35" transform="rotate(-90 100.80 613.10)">10<tspan dx="0.3" dy="-5.6" font-size="10">0</tspan></text>
<text x="136.25" y="621.00" font-size="10" text-anchor="start" font-weight="bold" stroke="#111" stroke-width="0.35">10<tspan dx="0.3" dy="-5.6" font-size="10">1</tspan></text>
<text x="100.80" y="583.47" font-size="10" text-anchor="start" font-weight="bold" stroke="#111" stroke-width="0.35" transform="rotate(-90 100.80 583.47)">10<tspan dx="0.3" dy="-5.6" font-size="10">1</tspan></text>
<text x="171.50" y="621.00" font-size="10" text-anchor="start" font-weight="bold" stroke="#111" stroke-width="0.35">10<tspan dx="0.3" dy="-5.6" font-size="10">2</tspan></text>
<text x="100.80" y="554.95" font-size="10" text-anchor="start" font-weight="bold" stroke="#111" stroke-width="0.35" transform="rotate(-90 100.80 554.95)">10<tspan dx="0.3" dy="-5.6" font-size="10">2</tspan></text>
<text x="206.75" y="621.00" font-size="10" text-anchor="start" font-weight="bold" stroke="#111" stroke-width="0.35">10<tspan dx="0.3" dy="-5.6" font-size="10">3</tspan></text>
<text x="100.80" y="525.32" font-size="10" text-anchor="start" font-weight="bold" stroke="#111" stroke-width="0.35" transform="rotate(-90 100.80 525.32)">10<tspan dx="0.3" dy="-5.6" font-size="10">3</tspan></text>
<text x="242.00" y="621.00" font-size="10" text-anchor="start" font-weight="bold" stroke="#111" stroke-width="0.35">10<tspan dx="0.3" dy="-5.6" font-size="10">4</tspan></text>
<text x="100.80" y="495.70" font-size="10" text-anchor="start" font-weight="bold" stroke="#111" stroke-width="0.35" transform="rotate(-90 100.80 495.70)">10<tspan dx="0.3" dy="-5.6" font-size="10">4</tspan></text>
<text x="176.00" y="633.80" font-size="13" text-anchor="middle" font-weight="bold">CD4</text>
<text x="80.00" y="544.50" font-size="13" text-anchor="middle" font-weight="bold" transform="rotate(-90 80.00 544.50)">CD8</text>
<line x1="230.50" y1="491.30" x2="230.50" y2="519.60" stroke="#0a0a0a" stroke-width="1.1"/>
<line x1="214.20" y1="505.50" x2="243.80" y2="505.50" stroke="#0a0a0a" stroke-width="1.1"/>
<text x="227.00" y="501.80" font-size="11.5" text-anchor="end" font-weight="bold" stroke="#111" stroke-width="0.3">81</text>
<text x="235.00" y="501.80" font-size="11.5" text-anchor="start" font-weight="bold" stroke="#111" stroke-width="0.3">2</text>
<text x="225.00" y="517.50" font-size="11.5" text-anchor="end" font-weight="bold" stroke="#111" stroke-width="0.3">2</text>
<text x="232.20" y="517.50" font-size="11.5" text-anchor="start" font-weight="bold" stroke="#111" stroke-width="0.3">15</text>
<path d="M122 531.5h1M122 535.5h1M116 535.5h1M134 531.5h1M133 532.5h1M128 532.5h1M110 530.5h1M129 531.5h1M110 541.5h1M117 536.5h1M127 533.5h1M129 536.5h1M127 532.5h1M119 526.5h1M129 528.5h1M119 537.5h1M121 534.5h1M130 532.5h1M121 537.5h1M120 528.5h1M117 533.5h1M128 539.5h1M125 528.5h1M110 535.5h1M117 532.5h1M124 539.5h1M131 530.5h1M132 527.5h1M113 531.5h1M119 535.5h1M114 538.5h1M110 540.5h1M137 530.5h1M110 544.5h1M118 538.5h1M133 528.5h1M126 532.5h1M128 527.5h1M130 531.5h1M129 540.5h1M135 529.5h1M129 541.5h1M119 530.5h1M113 527.5h1M129 534.5h1M127 530.5h1M125 529.5h1M133 533.5h1M117 530.5h1M137 535.5h1M113 534.5h1M123 535.5h1M136 537.5h1M135 538.5h1M118 531.5h1M134 529.5h1M126 531.5h1M123 532.5h1M129 533.5h1M131 531.5h1M141 531.5h1M121 535.5h1M124 530.5h1M121 532.5h1M140 543.5h1M115 533.5h1M121 531.5h1M127 535.5h1M145 531.5h1M120 534.5h1M122 534.5h1M110 536.5h1M114 534.5h1M132 529.5h1M137 540.5h1M130 529.5h1M130 539.5h1M126 528.5h1M123 533.5h1M131 532.5h1M124 527.5h1M133 534.5h1M148 537.5h1M132 534.5h1M125 530.5h1M111 540.5h1M130 537.5h1M116 540.5h1M135 530.5h1M137 537.5h1M124 538.5h1M131 526.5h1M117 527.5h1M110 528.5h1M119 532.5h1M116 529.5h1M137 527.5h1M123 536.5h1M125 527.5h1M122 543.5h1M121 541.5h1M119 534.5h1M131 533.5h1M136 533.5h1M133 527.5h1M138 535.5h1M132 541.5h1M115 542.5h1M133 538.5h1M124 534.5h1M124 536.5h1M126 526.5h1M125 531.5h1M114 536.5h1M133 540.5h1M119 529.5h1M114 540.5h1M120 537.5h1M118 540.5h1M123 538.5h1M127 543.5h1M127 536.5h1M110 531.5h1M110 538.5h1M120 530.5h1M127 528.5h1M141 540.5h1M128 523.5h1M116 531.5h1M140 533.5h1M129 529.5h1M117 534.5h1M132 533.5h1M117 537.5h1M147 528.5h1M130 544.5h1M139 531.5h1M124 531.5h1M118 528.5h1M140 538.5h1M126 535.5h1M116 525.5h1M133 525.5h1M131 537.5h1M127 542.5h1M118 534.5h1M123 531.5h1M127 531.5h1M126 533.5h1M126 534.5h1M114 532.5h1M133 531.5h1M116 542.5h1M125 537.5h1M110 539.5h1M121 539.5h1M129 532.5h1M138 529.5h1M133 537.5h1M123 530.5h1M122 529.5h1M123 523.5h1M135 534.5h1M125 523.5h1M121 530.5h1M114 533.5h1M127 529.5h1M132 531.5h1M115 536.5h1M121 542.5h1M119 531.5h1M122 539.5h1M140 530.5h1M134 536.5h1M123 541.5h1M131 529.5h1M110 534.5h1M110 542.5h1M119 539.5h1M125 532.5h1M130 530.5h1M137 528.5h1M113 536.5h1M115 538.5h1M124 533.5h1M128 540.5h1M123 545.5h1M116 534.5h1M112 533.5h1M126 539.5h1M128 531.5h1M124 537.5h1M123 534.5h1M118 539.5h1M115 534.5h1M120 533.5h1M129 535.5h1M144 534.5h1M134 532.5h1M134 543.5h1M118 533.5h1M129 523.5h1M129 538.5h1M134 537.5h1M126 524.5h1M122 533.5h1M134 533.5h1M129 530.5h1M118 526.5h1M138 533.5h1M136 536.5h1M130 535.5h1M124 532.5h1M120 524.5h1M110 527.5h1M111 529.5h1M112 534.5h1M122 537.5h1M118 537.5h1M142 535.5h1M124 522.5h1M122 532.5h1M116 538.5h1M130 536.5h1M123 539.5h1M130 525.5h1M123 527.5h1M124 541.5h1M136 529.5h1M112 535.5h1M116 539.5h1M120 536.5h1M113 535.5h1M120 532.5h1M121 529.5h1M136 534.5h1M131 536.5h1M137 534.5h1M122 536.5h1M131 534.5h1M127 526.5h1M119 524.5h1M126 529.5h1M114 542.5h1M130 522.5h1M138 538.5h1M121 548.5h1M131 535.5h1M132 524.5h1M125 533.5h1M128 534.5h1M130 534.5h1M115 528.5h1M128 537.5h1M111 527.5h1M111 530.5h1M125 534.5h1M124 542.5h1M122 530.5h1M139 532.5h1M135 536.5h1M145 535.5h1M115 532.5h1M129 539.5h1M131 539.5h1M118 536.5h1M125 535.5h1M129 527.5h1M135 532.5h1M113 524.5h1M143 541.5h1M132 530.5h1M122 538.5h1M128 536.5h1M117 535.5h1M134 526.5h1M118 535.5h1M113 532.5h1M132 535.5h1M123 526.5h1M115 537.5h1M124 528.5h1M121 536.5h1M127 538.5h1M131 528.5h1M118 532.5h1M117 524.5h1M120 529.5h1M143 543.5h1M143 532.5h1M110 529.5h1M125 539.5h1M130 542.5h1M146 536.5h1M126 536.5h1M135 531.5h1M116 537.5h1M119 536.5h1M115 531.5h1M116 532.5h1M136 532.5h1M126 540.5h1M119 533.5h1M142 543.5h1M133 522.5h1M125 536.5h1M141 536.5h1M132 537.5h1M111 538.5h1M141 535.5h1M135 535.5h1M118 541.5h1M118 527.5h1M143 528.5h1M128 526.5h1M130 528.5h1M135 539.5h1M131 525.5h1M111 526.5h1M128 533.5h1M127 537.5h1M136 535.5h1M124 543.5h1M112 544.5h1M110 533.5h1M141 528.5h1M140 527.5h1M120 539.5h1M120 540.5h1M114 528.5h1M140 529.5h1M142 538.5h1M133 539.5h1M122 527.5h1M134 534.5h1M131 538.5h1M111 531.5h1M117 528.5h1M130 533.5h1M126 545.5h1M137 533.5h1M145 533.5h1M115 529.5h1M110 537.5h1M119 540.5h1M134 540.5h1M112 536.5h1M138 536.5h1M112 532.5h1M132 532.5h1M138 534.5h1M142 526.5h1M139 533.5h1M128 528.5h1M112 530.5h1M121 538.5h1M113 530.5h1M112 537.5h1M132 538.5h1M127 540.5h1M126 537.5h1M137 538.5h1M133 524.5h1M141 533.5h1M127 534.5h1M133 529.5h1M138 528.5h1M139 535.5h1M113 539.5h1M134 530.5h1M127 527.5h1M117 526.5h1M130 527.5h1M139 534.5h1M111 532.5h1M111 535.5h1M125 538.5h1M125 541.5h1M120 526.5h1M123 537.5h1M115 527.5h1M118 530.5h1M128 529.5h1M119 538.5h1M112 529.5h1M116 536.5h1M114 535.5h1M131 540.5h1M112 541.5h1M128 538.5h1M126 527.5h1M125 526.5h1M140 525.5h1M119 527.5h1M110 532.5h1M146 532.5h1M137 529.5h1M132 539.5h1M121 523.5h1M133 535.5h1M140 534.5h1M131 541.5h1M117 542.5h1M124 526.5h1M124 529.5h1M124 521.5h1M116 527.5h1M111 537.5h1M150 535.5h1M139 538.5h1M127 539.5h1M112 538.5h1M143 530.5h1M128 524.5h1M136 539.5h1M129 537.5h1M135 526.5h1M123 529.5h1M128 530.5h1M142 525.5h1M141 529.5h1M111 525.5h1M133 530.5h1M130 538.5h1M117 529.5h1M114 529.5h1M133 541.5h1M132 544.5h1M143 535.5h1M120 538.5h1M132 528.5h1M134 535.5h1M114 539.5h1M149 534.5h1M138 532.5h1M134 539.5h1M113 544.5h1M116 530.5h1M128 541.5h1M120 527.5h1M117 548.5h1M117 539.5h1M116 528.5h1M110 524.5h1M122 540.5h1M115 535.5h1M136 547.5h1M120 531.5h1M127 541.5h1M130 526.5h1M127 525.5h1M118 542.5h1M111 544.5h1M140 540.5h1M135 540.5h1M139 530.5h1M144 535.5h1M124 535.5h1M118 529.5h1M139 537.5h1M133 536.5h1M111 533.5h1M142 532.5h1M137 531.5h1M120 541.5h1M119 525.5h1M111 536.5h1M126 541.5h1M135 533.5h1M110 547.5h1M116 533.5h1M133 518.5h1M145 520.5h1M137 542.5h1M121 528.5h1M113 526.5h1M130 541.5h1M110 519.5h1M117 552.5h1M139 529.5h1M124 524.5h1M121 522.5h1M111 546.5h1M121 525.5h1M118 525.5h1M157 532.5h1M152 545.5h1M120 523.5h1M142 533.5h1M110 521.5h1M111 524.5h1M136 538.5h1M139 539.5h1M134 538.5h1M113 522.5h1M144 530.5h1M123 542.5h1M144 523.5h1M129 546.5h1M136 542.5h1M118 521.5h1M142 534.5h1M131 522.5h1M140 521.5h1M110 526.5h1M112 527.5h1M112 520.5h1M111 528.5h1M147 537.5h1M122 551.5h1M120 535.5h1M147 532.5h1M115 530.5h1M146 521.5h1M133 523.5h1M120 522.5h1M138 537.5h1M115 546.5h1M150 533.5h1M156 531.5h1M138 541.5h1M134 521.5h1M128 553.5h1M136 527.5h1M128 535.5h1M143 531.5h1M145 549.5h1M125 544.5h1M116 524.5h1M134 546.5h1M146 534.5h1M117 521.5h1M110 514.5h1M132 516.5h1M137 532.5h1M145 544.5h1M138 523.5h1M131 544.5h1M122 552.5h1M136 545.5h1M132 523.5h1M114 522.5h1M140 528.5h1M145 527.5h1M117 525.5h1M111 543.5h1M121 543.5h1M131 552.5h1M127 524.5h1M132 536.5h1M122 526.5h1M130 540.5h1M111 519.5h1M144 522.5h1M145 526.5h1M132 546.5h1M143 520.5h1M141 530.5h1M111 542.5h1M129 522.5h1M142 518.5h1M126 546.5h1M144 537.5h1M116 547.5h1M155 537.5h1M118 517.5h1M156 516.5h1M158 528.5h1M139 521.5h1M110 520.5h1M128 519.5h1M170 525.5h1M113 519.5h1M138 525.5h1M136 525.5h1M135 521.5h1M115 526.5h1M134 512.5h1M143 538.5h1M142 528.5h1M110 543.5h1M110 554.5h1M142 539.5h1M125 546.5h1M140 542.5h1M114 541.5h1M110 515.5h1M111 554.5h1M125 540.5h1M145 532.5h1M158 541.5h1M150 540.5h1M131 524.5h1M110 525.5h1M134 528.5h1M144 526.5h1M120 543.5h1M131 542.5h1M112 531.5h1M113 541.5h1M138 526.5h1M121 521.5h1M121 540.5h1M141 532.5h1M123 522.5h1M112 549.5h1M128 545.5h1M150 523.5h1M126 542.5h1M146 526.5h1M147 526.5h1M141 508.5h1M151 532.5h1M148 527.5h1M110 551.5h1M133 549.5h1M158 530.5h1M117 522.5h1M133 517.5h1M128 522.5h1M139 526.5h1M123 540.5h1M169 539.5h1M156 526.5h1M117 531.5h1M124 548.5h1M111 545.5h1M126 520.5h1M137 519.5h1M138 524.5h1M140 535.5h1M118 524.5h1M156 536.5h1M150 524.5h1M120 542.5h1M137 526.5h1M141 538.5h1M155 545.5h1M125 514.5h1M129 545.5h1M150 526.5h1M135 524.5h1M120 544.5h1M111 534.5h1M145 528.5h1M124 525.5h1M149 531.5h1M135 541.5h1M161 515.5h1M132 521.5h1M145 523.5h1M142 546.5h1M146 537.5h1M139 543.5h1M137 543.5h1M143 533.5h1M125 518.5h1M110 545.5h1M131 543.5h1M151 534.5h1M110 546.5h1M142 523.5h1M112 539.5h1M110 522.5h1M152 526.5h1M130 516.5h1M136 522.5h1M125 524.5h1M157 542.5h1M139 523.5h1M112 546.5h1M149 521.5h1M112 524.5h1M135 549.5h1M115 544.5h1M122 525.5h1M144 538.5h1M155 534.5h1M137 523.5h1M111 548.5h1M112 528.5h1M139 527.5h1M139 512.5h1M140 526.5h1M134 525.5h1M123 528.5h1M156 543.5h1M150 536.5h1M126 543.5h1M148 534.5h1M137 517.5h1M139 528.5h1M121 518.5h1M132 545.5h1M138 522.5h1M151 539.5h1M124 546.5h1M136 531.5h1M146 530.5h1M111 539.5h1M151 526.5h1M153 526.5h1M143 529.5h1M118 543.5h1M155 515.5h1M134 520.5h1M121 516.5h1M155 528.5h1M138 531.5h1M130 524.5h1M146 553.5h1M133 520.5h1M111 547.5h1M136 515.5h1M124 540.5h1M136 544.5h1M138 542.5h1M114 544.5h1M127 521.5h1M119 541.5h1M146 517.5h1M128 510.5h1M127 519.5h1M160 526.5h1M147 520.5h1M121 527.5h1M150 525.5h1M141 520.5h1M141 518.5h1M125 543.5h1M144 532.5h1M122 547.5h1M110 548.5h1M149 537.5h1M113 547.5h1M157 540.5h1M136 524.5h1M123 521.5h1M115 521.5h1M136 530.5h1M151 541.5h1M130 547.5h1M147 521.5h1M117 523.5h1M117 547.5h1M116 555.5h1M117 544.5h1M125 545.5h1M148 528.5h1M132 525.5h1M137 520.5h1M150 528.5h1M140 531.5h1M154 528.5h1M151 515.5h1M142 520.5h1M125 525.5h1M126 519.5h1M115 540.5h1M126 530.5h1M111 521.5h1M135 528.5h1M131 521.5h1M142 531.5h1M115 541.5h1M142 529.5h1M127 523.5h1M146 518.5h1M148 545.5h1M161 527.5h1M163 532.5h1M149 519.5h1M142 541.5h1M134 517.5h1M151 527.5h1M117 546.5h1M157 524.5h1M155 532.5h1M134 527.5h1M135 546.5h1M153 522.5h1M113 529.5h1M143 526.5h1M115 552.5h1M134 519.5h1M144 529.5h1M136 521.5h1M151 518.5h1M152 530.5h1M126 523.5h1M134 544.5h1M185 582.5h1M197 565.5h1M189 580.5h1M193 582.5h1M189 576.5h1M180 575.5h1M195 565.5h1M185 585.5h1M188 584.5h1M202 576.5h1M190 573.5h1M194 563.5h1M186 570.5h1M192 581.5h1M192 582.5h1M200 575.5h1M197 562.5h1M189 581.5h1M192 580.5h1M196 570.5h1M188 580.5h1M195 582.5h1M191 580.5h1M200 564.5h1M198 566.5h1M192 562.5h1M195 569.5h1M194 567.5h1M193 574.5h1M184 563.5h1M185 591.5h1M188 562.5h1M198 575.5h1M193 573.5h1M182 580.5h1M193 565.5h1M186 591.5h1M184 574.5h1M192 572.5h1M192 575.5h1M185 573.5h1M194 569.5h1M198 579.5h1M180 590.5h1M202 575.5h1M194 573.5h1M195 550.5h1M189 573.5h1M194 579.5h1M198 563.5h1M190 585.5h1M195 579.5h1M189 568.5h1M187 579.5h1M196 559.5h1M188 567.5h1M188 572.5h1M194 580.5h1M197 559.5h1M192 571.5h1M186 564.5h1M188 589.5h1M198 555.5h1M189 579.5h1M189 578.5h1M194 562.5h1M187 572.5h1M183 567.5h1M191 578.5h1M199 571.5h1M191 563.5h1M188 568.5h1M198 584.5h1M187 582.5h1M189 572.5h1M191 573.5h1M189 575.5h1M188 576.5h1M185 570.5h1M195 573.5h1M188 578.5h1M188 585.5h1M200 548.5h1M186 584.5h1M194 568.5h1M184 590.5h1M194 586.5h1M199 574.5h1M192 573.5h1M190 566.5h1M191 574.5h1M188 575.5h1M201 562.5h1M193 561.5h1M197 570.5h1M191 581.5h1M193 575.5h1M184 585.5h1M201 568.5h1M194 571.5h1M189 571.5h1M197 573.5h1M194 565.5h1M188 571.5h1M188 563.5h1M190 580.5h1M187 571.5h1M187 563.5h1M198 567.5h1M185 577.5h1M188 587.5h1M194 557.5h1M189 569.5h1M198 577.5h1M190 572.5h1M196 582.5h1M190 569.5h1M189 556.5h1M188 569.5h1M191 579.5h1M192 569.5h1M194 578.5h1M187 566.5h1M189 585.5h1M201 575.5h1M187 569.5h1M186 582.5h1M197 577.5h1M204 567.5h1M205 567.5h1M192 578.5h1M191 577.5h1M192 568.5h1M181 568.5h1M191 567.5h1M193 567.5h1M191 586.5h1M197 582.5h1M200 557.5h1M198 572.5h1M191 575.5h1M190 565.5h1M179 570.5h1M197 572.5h1M197 550.5h1M191 576.5h1M200 570.5h1M194 570.5h1M194 583.5h1M197 579.5h1M189 582.5h1M195 570.5h1M193 572.5h1M188 573.5h1M195 577.5h1M195 572.5h1M188 581.5h1M183 585.5h1M193 564.5h1M189 574.5h1M194 564.5h1M194 588.5h1M194 574.5h1M196 563.5h1M193 569.5h1M192 567.5h1M186 571.5h1M197 563.5h1M184 581.5h1M187 577.5h1M190 574.5h1M191 572.5h1M194 581.5h1M177 582.5h1M195 574.5h1M189 583.5h1M196 575.5h1M195 576.5h1M192 577.5h1M187 573.5h1M188 564.5h1M188 579.5h1M185 593.5h1M185 566.5h1M198 578.5h1M197 574.5h1M205 568.5h1M192 564.5h1M196 565.5h1M186 568.5h1M197 569.5h1M192 563.5h1M190 571.5h1M192 579.5h1M196 576.5h1M190 575.5h1M197 578.5h1M192 576.5h1M184 575.5h1M186 576.5h1M203 575.5h1M196 574.5h1M183 588.5h1M193 571.5h1M197 575.5h1M198 571.5h1M188 574.5h1M186 583.5h1M190 582.5h1M180 577.5h1M184 583.5h1M192 574.5h1M181 570.5h1M204 566.5h1M194 575.5h1M203 565.5h1M188 566.5h1M183 581.5h1M187 565.5h1M199 577.5h1M193 577.5h1M190 568.5h1M198 576.5h1M198 574.5h1M189 564.5h1M189 570.5h1M201 565.5h1M196 581.5h1M200 555.5h1M201 569.5h1M183 578.5h1M200 589.5h1M194 566.5h1M198 568.5h1M182 584.5h1M200 590.5h1M197 564.5h1M193 578.5h1M186 572.5h1M191 583.5h1M199 567.5h1M201 573.5h1M195 578.5h1M187 576.5h1M196 577.5h1M200 573.5h1M190 577.5h1M185 583.5h1M200 582.5h1M197 566.5h1M190 578.5h1M186 580.5h1M188 577.5h1M190 586.5h1M190 576.5h1M191 557.5h1M186 561.5h1M193 585.5h1M195 575.5h1M186 573.5h1M203 557.5h1M198 580.5h1M186 574.5h1M203 570.5h1M200 567.5h1M187 575.5h1M195 566.5h1M191 562.5h1M182 581.5h1M189 586.5h1M191 570.5h1M199 578.5h1M199 566.5h1M194 577.5h1M201 578.5h1M189 577.5h1M183 586.5h1M191 568.5h1M191 571.5h1M201 572.5h1M190 587.5h1M191 558.5h1M185 581.5h1M194 572.5h1M194 576.5h1M184 572.5h1M191 584.5h1M195 568.5h1M196 566.5h1M198 569.5h1M190 583.5h1M199 569.5h1" stroke="#1c1c1c" stroke-width="1" fill="none"/>
<path d="M110 523.5h1M110 550.5h1M111 523.5h1M182 571.5h1M175 575.5h1M205 583.5h1M179 565.5h1M192 583.5h1M203 576.5h1M195 580.5h1M183 601.5h1M202 545.5h1M201 552.5h1M193 581.5h1M195 587.5h1M190 563.5h1M189 591.5h1M176 597.5h1M201 574.5h1M196 561.5h1M186 598.5h1M197 588.5h1M190 550.5h1M183 577.5h1M204 575.5h1M192 603.5h1M203 573.5h1M206 559.5h1M192 565.5h1M195 567.5h1M194 582.5h1M190 570.5h1M182 578.5h1M187 598.5h1M179 581.5h1M191 585.5h1M194 584.5h1M187 580.5h1M205 552.5h1M200 583.5h1M191 564.5h1M199 594.5h1M186 550.5h1M188 545.5h1M209 578.5h1M187 558.5h1M179 556.5h1M200 569.5h1M187 597.5h1M195 559.5h1M199 562.5h1M198 586.5h1M179 571.5h1M193 563.5h1M188 588.5h1M176 588.5h1M183 592.5h1M186 565.5h1M213 548.5h1M187 562.5h1M185 578.5h1M175 557.5h1M184 570.5h1M180 583.5h1M200 566.5h1M173 570.5h1M179 575.5h1M196 583.5h1M195 563.5h1M204 568.5h1M210 583.5h1M208 574.5h1M192 587.5h1M195 549.5h1M193 558.5h1M200 587.5h1M199 561.5h1M189 549.5h1M190 558.5h1M204 552.5h1M193 568.5h1M177 602.5h1M185 568.5h1M201 566.5h1M205 592.5h1M183 590.5h1M181 557.5h1M182 589.5h1M187 567.5h1M169 593.5h1M179 558.5h1M184 591.5h1M182 564.5h1M184 589.5h1M172 576.5h1M195 586.5h1M191 534.5h1M181 600.5h1M197 580.5h1M186 569.5h1M204 594.5h1M201 570.5h1M178 578.5h1M199 586.5h1M182 586.5h1M203 564.5h1M193 597.5h1M200 584.5h1M167 573.5h1M180 581.5h1M196 578.5h1M188 590.5h1M191 559.5h1M178 566.5h1M196 515.5h1M181 522.5h1M172 533.5h1M212 523.5h1M161 530.5h1M201 534.5h1M192 529.5h1M168 534.5h1M198 521.5h1M178 522.5h1M176 528.5h1M184 539.5h1M188 533.5h1M152 536.5h1M175 536.5h1M173 535.5h1M156 523.5h1M186 528.5h1M182 529.5h1M182 538.5h1M167 529.5h1M197 528.5h1M204 540.5h1M182 534.5h1M199 517.5h1M179 524.5h1M182 537.5h1M183 537.5h1M203 525.5h1M199 527.5h1M156 524.5h1M186 547.5h1M186 522.5h1M205 537.5h1M194 527.5h1M183 532.5h1M191 526.5h1M192 533.5h1M169 520.5h1M200 534.5h1M184 524.5h1M164 526.5h1M213 528.5h1M176 515.5h1M185 528.5h1M180 528.5h1M163 539.5h1M167 523.5h1M184 521.5h1M161 534.5h1M202 536.5h1M163 535.5h1M181 530.5h1M200 520.5h1M203 526.5h1M179 533.5h1M167 520.5h1M199 529.5h1M174 525.5h1M152 573.5h1M113 571.5h1M127 563.5h1M155 568.5h1M130 549.5h1M159 554.5h1M160 564.5h1M150 594.5h1M110 592.5h1M163 573.5h1M143 544.5h1M131 604.5h1M133 563.5h1M158 580.5h1M160 577.5h1M123 582.5h1M158 559.5h1M114 593.5h1M143 539.5h1M113 598.5h1M150 567.5h1M126 576.5h1M152 604.5h1M155 560.5h1M169 577.5h1M110 553.5h1M125 558.5h1M165 578.5h1M110 584.5h1M120 577.5h1M114 569.5h1M186 596.5h1M166 585.5h1M154 578.5h1M172 588.5h1M158 589.5h1M146 576.5h1M167 603.5h1M110 552.5h1M181 594.5h1M146 565.5h1M182 577.5h1M130 563.5h1M138 589.5h1M159 604.5h1M173 584.5h1M133 569.5h1M168 567.5h1M117 585.5h1M166 578.5h1M125 561.5h1M168 539.5h1M115 588.5h1M124 570.5h1M129 557.5h1M110 559.5h1M134 566.5h1M145 593.5h1M176 566.5h1M129 572.5h1M114 597.5h1M143 589.5h1M110 604.5h1M122 555.5h1M153 583.5h1M126 556.5h1M148 547.5h1M149 586.5h1M126 588.5h1M147 571.5h1M116 579.5h1M118 567.5h1M110 586.5h1M126 580.5h1M177 580.5h1M110 581.5h1M154 572.5h1M188 556.5h1M143 555.5h1M110 579.5h1M145 548.5h1M129 549.5h1M116 551.5h1M110 590.5h1M138 573.5h1M140 573.5h1M136 593.5h1M134 574.5h1M119 568.5h1M182 604.5h1M128 581.5h1M141 574.5h1M123 576.5h1M141 577.5h1M177 573.5h1M110 603.5h1M132 586.5h1M124 582.5h1M162 562.5h1M153 579.5h1M110 562.5h1M171 556.5h1M147 569.5h1M140 554.5h1M159 581.5h1M141 603.5h1" stroke="#4a4a4a" stroke-width="1" fill="none"/>
<rect x="302.50" y="487.50" width="140.00" height="118.00" fill="none" stroke="#0a0a0a" stroke-width="1.2"/>
<line x1="357.50" y1="487.30" x2="357.50" y2="605.80" stroke="#0a0a0a" stroke-width="1.2"/>
<line x1="302.20" y1="554.50" x2="442.50" y2="554.50" stroke="#0a0a0a" stroke-width="1.2"/>
<text x="376.00" y="478.60" font-size="13.5" text-anchor="middle" font-weight="bold">donor F22</text>
<line x1="302.50" y1="605.80" x2="302.50" y2="608.25" stroke="#0a0a0a" stroke-width="0.9"/>
<line x1="302.20" y1="605.50" x2="298.70" y2="605.50" stroke="#0a0a0a" stroke-width="0.9"/>
<line x1="312.50" y1="605.80" x2="312.50" y2="607.20" stroke="#0a0a0a" stroke-width="0.9"/>
<line x1="302.20" y1="596.50" x2="300.20" y2="596.50" stroke="#0a0a0a" stroke-width="0.9"/>
<line x1="318.50" y1="605.80" x2="318.50" y2="607.20" stroke="#0a0a0a" stroke-width="0.9"/>
<line x1="302.20" y1="591.50" x2="300.20" y2="591.50" stroke="#0a0a0a" stroke-width="0.9"/>
<line x1="323.50" y1="605.80" x2="323.50" y2="607.20" stroke="#0a0a0a" stroke-width="0.9"/>
<line x1="302.20" y1="587.50" x2="300.20" y2="587.50" stroke="#0a0a0a" stroke-width="0.9"/>
<line x1="326.50" y1="605.80" x2="326.50" y2="607.20" stroke="#0a0a0a" stroke-width="0.9"/>
<line x1="302.20" y1="585.50" x2="300.20" y2="585.50" stroke="#0a0a0a" stroke-width="0.9"/>
<line x1="329.50" y1="605.80" x2="329.50" y2="607.20" stroke="#0a0a0a" stroke-width="0.9"/>
<line x1="302.20" y1="582.50" x2="300.20" y2="582.50" stroke="#0a0a0a" stroke-width="0.9"/>
<line x1="331.50" y1="605.80" x2="331.50" y2="607.20" stroke="#0a0a0a" stroke-width="0.9"/>
<line x1="302.20" y1="580.50" x2="300.20" y2="580.50" stroke="#0a0a0a" stroke-width="0.9"/>
<line x1="333.50" y1="605.80" x2="333.50" y2="607.20" stroke="#0a0a0a" stroke-width="0.9"/>
<line x1="302.20" y1="579.50" x2="300.20" y2="579.50" stroke="#0a0a0a" stroke-width="0.9"/>
<line x1="335.50" y1="605.80" x2="335.50" y2="607.20" stroke="#0a0a0a" stroke-width="0.9"/>
<line x1="302.20" y1="577.50" x2="300.20" y2="577.50" stroke="#0a0a0a" stroke-width="0.9"/>
<line x1="337.50" y1="605.80" x2="337.50" y2="608.25" stroke="#0a0a0a" stroke-width="0.9"/>
<line x1="302.20" y1="576.50" x2="298.70" y2="576.50" stroke="#0a0a0a" stroke-width="0.9"/>
<line x1="347.50" y1="605.80" x2="347.50" y2="607.20" stroke="#0a0a0a" stroke-width="0.9"/>
<line x1="302.20" y1="567.50" x2="300.20" y2="567.50" stroke="#0a0a0a" stroke-width="0.9"/>
<line x1="354.50" y1="605.80" x2="354.50" y2="607.20" stroke="#0a0a0a" stroke-width="0.9"/>
<line x1="302.20" y1="562.50" x2="300.20" y2="562.50" stroke="#0a0a0a" stroke-width="0.9"/>
<line x1="358.50" y1="605.80" x2="358.50" y2="607.20" stroke="#0a0a0a" stroke-width="0.9"/>
<line x1="302.20" y1="558.50" x2="300.20" y2="558.50" stroke="#0a0a0a" stroke-width="0.9"/>
<line x1="361.50" y1="605.80" x2="361.50" y2="607.20" stroke="#0a0a0a" stroke-width="0.9"/>
<line x1="302.20" y1="555.50" x2="300.20" y2="555.50" stroke="#0a0a0a" stroke-width="0.9"/>
<line x1="364.50" y1="605.80" x2="364.50" y2="607.20" stroke="#0a0a0a" stroke-width="0.9"/>
<line x1="302.20" y1="553.50" x2="300.20" y2="553.50" stroke="#0a0a0a" stroke-width="0.9"/>
<line x1="366.50" y1="605.80" x2="366.50" y2="607.20" stroke="#0a0a0a" stroke-width="0.9"/>
<line x1="302.20" y1="551.50" x2="300.20" y2="551.50" stroke="#0a0a0a" stroke-width="0.9"/>
<line x1="368.50" y1="605.80" x2="368.50" y2="607.20" stroke="#0a0a0a" stroke-width="0.9"/>
<line x1="302.20" y1="549.50" x2="300.20" y2="549.50" stroke="#0a0a0a" stroke-width="0.9"/>
<line x1="370.50" y1="605.80" x2="370.50" y2="607.20" stroke="#0a0a0a" stroke-width="0.9"/>
<line x1="302.20" y1="547.50" x2="300.20" y2="547.50" stroke="#0a0a0a" stroke-width="0.9"/>
<line x1="372.50" y1="605.80" x2="372.50" y2="608.25" stroke="#0a0a0a" stroke-width="0.9"/>
<line x1="302.20" y1="546.50" x2="298.70" y2="546.50" stroke="#0a0a0a" stroke-width="0.9"/>
<line x1="382.50" y1="605.80" x2="382.50" y2="607.20" stroke="#0a0a0a" stroke-width="0.9"/>
<line x1="302.20" y1="537.50" x2="300.20" y2="537.50" stroke="#0a0a0a" stroke-width="0.9"/>
<line x1="389.50" y1="605.80" x2="389.50" y2="607.20" stroke="#0a0a0a" stroke-width="0.9"/>
<line x1="302.20" y1="532.50" x2="300.20" y2="532.50" stroke="#0a0a0a" stroke-width="0.9"/>
<line x1="393.50" y1="605.80" x2="393.50" y2="607.20" stroke="#0a0a0a" stroke-width="0.9"/>
<line x1="302.20" y1="528.50" x2="300.20" y2="528.50" stroke="#0a0a0a" stroke-width="0.9"/>
<line x1="396.50" y1="605.80" x2="396.50" y2="607.20" stroke="#0a0a0a" stroke-width="0.9"/>
<line x1="302.20" y1="525.50" x2="300.20" y2="525.50" stroke="#0a0a0a" stroke-width="0.9"/>
<line x1="399.50" y1="605.80" x2="399.50" y2="607.20" stroke="#0a0a0a" stroke-width="0.9"/>
<line x1="302.20" y1="523.50" x2="300.20" y2="523.50" stroke="#0a0a0a" stroke-width="0.9"/>
<line x1="401.50" y1="605.80" x2="401.50" y2="607.20" stroke="#0a0a0a" stroke-width="0.9"/>
<line x1="302.20" y1="521.50" x2="300.20" y2="521.50" stroke="#0a0a0a" stroke-width="0.9"/>
<line x1="404.50" y1="605.80" x2="404.50" y2="607.20" stroke="#0a0a0a" stroke-width="0.9"/>
<line x1="302.20" y1="519.50" x2="300.20" y2="519.50" stroke="#0a0a0a" stroke-width="0.9"/>
<line x1="405.50" y1="605.80" x2="405.50" y2="607.20" stroke="#0a0a0a" stroke-width="0.9"/>
<line x1="302.20" y1="518.50" x2="300.20" y2="518.50" stroke="#0a0a0a" stroke-width="0.9"/>
<line x1="407.50" y1="605.80" x2="407.50" y2="608.25" stroke="#0a0a0a" stroke-width="0.9"/>
<line x1="302.20" y1="516.50" x2="298.70" y2="516.50" stroke="#0a0a0a" stroke-width="0.9"/>
<line x1="417.50" y1="605.80" x2="417.50" y2="607.20" stroke="#0a0a0a" stroke-width="0.9"/>
<line x1="302.20" y1="508.50" x2="300.20" y2="508.50" stroke="#0a0a0a" stroke-width="0.9"/>
<line x1="424.50" y1="605.80" x2="424.50" y2="607.20" stroke="#0a0a0a" stroke-width="0.9"/>
<line x1="302.20" y1="502.50" x2="300.20" y2="502.50" stroke="#0a0a0a" stroke-width="0.9"/>
<line x1="428.50" y1="605.80" x2="428.50" y2="607.20" stroke="#0a0a0a" stroke-width="0.9"/>
<line x1="302.20" y1="499.50" x2="300.20" y2="499.50" stroke="#0a0a0a" stroke-width="0.9"/>
<line x1="431.50" y1="605.80" x2="431.50" y2="607.20" stroke="#0a0a0a" stroke-width="0.9"/>
<line x1="302.20" y1="496.50" x2="300.20" y2="496.50" stroke="#0a0a0a" stroke-width="0.9"/>
<line x1="434.50" y1="605.80" x2="434.50" y2="607.20" stroke="#0a0a0a" stroke-width="0.9"/>
<line x1="302.20" y1="493.50" x2="300.20" y2="493.50" stroke="#0a0a0a" stroke-width="0.9"/>
<line x1="437.50" y1="605.80" x2="437.50" y2="607.20" stroke="#0a0a0a" stroke-width="0.9"/>
<line x1="302.20" y1="491.50" x2="300.20" y2="491.50" stroke="#0a0a0a" stroke-width="0.9"/>
<line x1="439.50" y1="605.80" x2="439.50" y2="607.20" stroke="#0a0a0a" stroke-width="0.9"/>
<line x1="302.20" y1="490.50" x2="300.20" y2="490.50" stroke="#0a0a0a" stroke-width="0.9"/>
<line x1="440.50" y1="605.80" x2="440.50" y2="607.20" stroke="#0a0a0a" stroke-width="0.9"/>
<line x1="302.20" y1="488.50" x2="300.20" y2="488.50" stroke="#0a0a0a" stroke-width="0.9"/>
<line x1="442.50" y1="605.80" x2="442.50" y2="608.30" stroke="#0a0a0a" stroke-width="0.9"/>
<line x1="302.20" y1="487.50" x2="298.70" y2="487.50" stroke="#0a0a0a" stroke-width="0.9"/>
<text x="294.40" y="621.00" font-size="10" text-anchor="start" font-weight="bold" stroke="#111" stroke-width="0.35">10<tspan dx="0.3" dy="-5.6" font-size="10">0</tspan></text>
<text x="294.90" y="613.10" font-size="10" text-anchor="start" font-weight="bold" stroke="#111" stroke-width="0.35" transform="rotate(-90 294.90 613.10)">10<tspan dx="0.3" dy="-5.6" font-size="10">0</tspan></text>
<text x="329.47" y="621.00" font-size="10" text-anchor="start" font-weight="bold" stroke="#111" stroke-width="0.35">10<tspan dx="0.3" dy="-5.6" font-size="10">1</tspan></text>
<text x="294.90" y="583.47" font-size="10" text-anchor="start" font-weight="bold" stroke="#111" stroke-width="0.35" transform="rotate(-90 294.90 583.47)">10<tspan dx="0.3" dy="-5.6" font-size="10">1</tspan></text>
<text x="364.55" y="621.00" font-size="10" text-anchor="start" font-weight="bold" stroke="#111" stroke-width="0.35">10<tspan dx="0.3" dy="-5.6" font-size="10">2</tspan></text>
<text x="294.90" y="554.95" font-size="10" text-anchor="start" font-weight="bold" stroke="#111" stroke-width="0.35" transform="rotate(-90 294.90 554.95)">10<tspan dx="0.3" dy="-5.6" font-size="10">2</tspan></text>
<text x="399.62" y="621.00" font-size="10" text-anchor="start" font-weight="bold" stroke="#111" stroke-width="0.35">10<tspan dx="0.3" dy="-5.6" font-size="10">3</tspan></text>
<text x="294.90" y="525.32" font-size="10" text-anchor="start" font-weight="bold" stroke="#111" stroke-width="0.35" transform="rotate(-90 294.90 525.32)">10<tspan dx="0.3" dy="-5.6" font-size="10">3</tspan></text>
<text x="434.70" y="621.00" font-size="10" text-anchor="start" font-weight="bold" stroke="#111" stroke-width="0.35">10<tspan dx="0.3" dy="-5.6" font-size="10">4</tspan></text>
<text x="294.90" y="495.70" font-size="10" text-anchor="start" font-weight="bold" stroke="#111" stroke-width="0.35" transform="rotate(-90 294.90 495.70)">10<tspan dx="0.3" dy="-5.6" font-size="10">4</tspan></text>
<text x="369.50" y="633.80" font-size="13" text-anchor="middle" font-weight="bold">CD4</text>
<text x="274.60" y="546.00" font-size="13" text-anchor="middle" font-weight="bold" transform="rotate(-90 274.60 546.00)">CD8</text>
<line x1="420.50" y1="491.30" x2="420.50" y2="519.60" stroke="#0a0a0a" stroke-width="1.1"/>
<line x1="404.60" y1="505.50" x2="434.20" y2="505.50" stroke="#0a0a0a" stroke-width="1.1"/>
<text x="417.40" y="501.80" font-size="11.5" text-anchor="end" font-weight="bold" stroke="#111" stroke-width="0.3">88</text>
<text x="425.40" y="501.80" font-size="11.5" text-anchor="start" font-weight="bold" stroke="#111" stroke-width="0.3">1</text>
<text x="415.40" y="517.50" font-size="11.5" text-anchor="end" font-weight="bold" stroke="#111" stroke-width="0.3">2</text>
<text x="422.60" y="517.50" font-size="11.5" text-anchor="start" font-weight="bold" stroke="#111" stroke-width="0.3">10</text>
<path d="M310 534.5h1M337 530.5h1M324 529.5h1M313 529.5h1M304 531.5h1M318 531.5h1M317 527.5h1M312 532.5h1M320 532.5h1M319 529.5h1M322 535.5h1M311 535.5h1M326 527.5h1M304 542.5h1M319 537.5h1M308 533.5h1M328 520.5h1M313 534.5h1M332 532.5h1M329 526.5h1M317 524.5h1M320 534.5h1M303 535.5h1M320 523.5h1M303 530.5h1M329 524.5h1M318 528.5h1M319 534.5h1M315 531.5h1M312 540.5h1M304 532.5h1M320 529.5h1M306 529.5h1M313 543.5h1M329 536.5h1M335 523.5h1M312 545.5h1M310 525.5h1M327 527.5h1M303 537.5h1M320 531.5h1M319 539.5h1M304 530.5h1M336 523.5h1M304 528.5h1M303 534.5h1M326 522.5h1M318 521.5h1M324 532.5h1M308 520.5h1M313 530.5h1M315 534.5h1M303 536.5h1M303 540.5h1M318 527.5h1M317 522.5h1M321 524.5h1M308 536.5h1M314 543.5h1M327 523.5h1M316 513.5h1M327 518.5h1M329 523.5h1M304 526.5h1M320 537.5h1M316 527.5h1M324 528.5h1M312 528.5h1M310 533.5h1M322 537.5h1M319 541.5h1M308 540.5h1M315 528.5h1M317 532.5h1M317 525.5h1M311 526.5h1M307 535.5h1M304 538.5h1M319 524.5h1M320 526.5h1M323 538.5h1M320 530.5h1M317 528.5h1M314 541.5h1M307 541.5h1M305 535.5h1M327 532.5h1M309 539.5h1M314 537.5h1M320 536.5h1M321 533.5h1M323 534.5h1M320 528.5h1M315 523.5h1M317 536.5h1M322 534.5h1M311 532.5h1M318 522.5h1M315 530.5h1M329 534.5h1M311 542.5h1M307 533.5h1M327 536.5h1M325 524.5h1M330 528.5h1M330 523.5h1M311 538.5h1M332 535.5h1M316 519.5h1M317 526.5h1M309 535.5h1M303 532.5h1M334 522.5h1M314 534.5h1M313 538.5h1M323 533.5h1M310 530.5h1M317 534.5h1M328 530.5h1M331 525.5h1M322 541.5h1M323 527.5h1M321 527.5h1M320 533.5h1M307 539.5h1M317 529.5h1M303 547.5h1M316 516.5h1M321 522.5h1M330 533.5h1M326 535.5h1M319 530.5h1M321 534.5h1M327 529.5h1M316 533.5h1M307 530.5h1M319 528.5h1M314 532.5h1M323 530.5h1M324 527.5h1M304 539.5h1M321 529.5h1M315 525.5h1M321 536.5h1M310 531.5h1M331 528.5h1M314 530.5h1M318 533.5h1M311 537.5h1M322 533.5h1M321 528.5h1M324 543.5h1M315 527.5h1M338 517.5h1M328 526.5h1M303 531.5h1M321 535.5h1M307 537.5h1M316 529.5h1M322 536.5h1M315 540.5h1M311 528.5h1M310 523.5h1M320 525.5h1M325 528.5h1M332 528.5h1M312 536.5h1M303 538.5h1M312 531.5h1M308 529.5h1M317 533.5h1M306 523.5h1M329 537.5h1M317 538.5h1M331 521.5h1M312 527.5h1M312 533.5h1M312 542.5h1M321 541.5h1M314 529.5h1M317 539.5h1M310 529.5h1M325 520.5h1M303 533.5h1M322 538.5h1M310 535.5h1M308 528.5h1M305 539.5h1M334 525.5h1M309 530.5h1M315 529.5h1M306 540.5h1M312 538.5h1M322 519.5h1M327 526.5h1M305 531.5h1M316 531.5h1M313 528.5h1M325 522.5h1M322 532.5h1M338 524.5h1M330 530.5h1M307 543.5h1M310 546.5h1M312 521.5h1M306 532.5h1M312 537.5h1M308 525.5h1M321 532.5h1M313 535.5h1M327 537.5h1M336 518.5h1M322 526.5h1M323 519.5h1M314 531.5h1M319 535.5h1M315 535.5h1M306 538.5h1M309 532.5h1M325 527.5h1M312 535.5h1M326 537.5h1M314 523.5h1M309 527.5h1M329 521.5h1M306 524.5h1M326 516.5h1M304 523.5h1M311 533.5h1M332 521.5h1M330 529.5h1M314 533.5h1M308 532.5h1M319 521.5h1M316 541.5h1M320 518.5h1M315 547.5h1M313 533.5h1M308 543.5h1M332 520.5h1M318 534.5h1M314 527.5h1M312 530.5h1M324 534.5h1M311 530.5h1M316 532.5h1M316 538.5h1M303 545.5h1M319 531.5h1M325 526.5h1M324 531.5h1M311 527.5h1M323 541.5h1M322 523.5h1M325 531.5h1M309 528.5h1M325 529.5h1M306 542.5h1M318 535.5h1M325 540.5h1M310 526.5h1M305 534.5h1M329 522.5h1M316 526.5h1M313 526.5h1M316 539.5h1M328 531.5h1M324 530.5h1M308 538.5h1M315 522.5h1M323 529.5h1M308 523.5h1M312 525.5h1M318 536.5h1M306 535.5h1M311 536.5h1M314 520.5h1M338 519.5h1M329 533.5h1M322 539.5h1M325 537.5h1M319 533.5h1M318 540.5h1M316 535.5h1M326 529.5h1M311 544.5h1M315 539.5h1M306 530.5h1M329 525.5h1M320 522.5h1M318 524.5h1M326 520.5h1M303 544.5h1M322 531.5h1M326 540.5h1M318 537.5h1M310 541.5h1M316 522.5h1M329 527.5h1M317 531.5h1M323 532.5h1M332 525.5h1M313 539.5h1M316 528.5h1M318 520.5h1M318 523.5h1M303 527.5h1M321 520.5h1M323 539.5h1M327 530.5h1M306 544.5h1M313 532.5h1M310 536.5h1M321 525.5h1M320 524.5h1M308 530.5h1M319 536.5h1M311 524.5h1M328 533.5h1M314 526.5h1M321 521.5h1M313 540.5h1M339 529.5h1M307 536.5h1M312 541.5h1M348 524.5h1M305 533.5h1M310 528.5h1M317 530.5h1M303 542.5h1M324 533.5h1M316 530.5h1M314 544.5h1M306 539.5h1M307 531.5h1M309 520.5h1M321 537.5h1M313 524.5h1M335 529.5h1M326 526.5h1M331 522.5h1M325 519.5h1M336 527.5h1M305 527.5h1M313 522.5h1M322 528.5h1M322 525.5h1M305 538.5h1M331 516.5h1M309 531.5h1M316 536.5h1M322 530.5h1M330 525.5h1M313 546.5h1M315 532.5h1M314 539.5h1M315 526.5h1M319 527.5h1M304 533.5h1M319 526.5h1M303 525.5h1M327 521.5h1M317 537.5h1M328 528.5h1M320 527.5h1M324 524.5h1M314 521.5h1M328 522.5h1M325 533.5h1M303 524.5h1M313 542.5h1M309 537.5h1M323 544.5h1M304 537.5h1M326 532.5h1M306 537.5h1M327 525.5h1M333 525.5h1M313 537.5h1M319 538.5h1M318 532.5h1M326 523.5h1M328 534.5h1M307 528.5h1M306 531.5h1M328 518.5h1M308 539.5h1M303 529.5h1M308 527.5h1M317 535.5h1M305 526.5h1M307 524.5h1M324 541.5h1M310 537.5h1M325 530.5h1M339 526.5h1M332 533.5h1M312 534.5h1M323 524.5h1M317 514.5h1M323 523.5h1M332 531.5h1M306 534.5h1M306 533.5h1M325 534.5h1M333 531.5h1M336 516.5h1M309 525.5h1M318 538.5h1M333 521.5h1M307 540.5h1M308 524.5h1M335 520.5h1M323 535.5h1M327 531.5h1M307 522.5h1M323 522.5h1M330 520.5h1M321 538.5h1M337 524.5h1M320 535.5h1M313 536.5h1M308 535.5h1M309 540.5h1M319 532.5h1M304 541.5h1M309 533.5h1M338 529.5h1M331 537.5h1M332 516.5h1M309 534.5h1M329 520.5h1M303 541.5h1M328 532.5h1M321 540.5h1M331 526.5h1M322 524.5h1M311 534.5h1M306 526.5h1M316 525.5h1M313 531.5h1M307 532.5h1M307 529.5h1M304 535.5h1M335 513.5h1M330 532.5h1M304 529.5h1M310 538.5h1M326 528.5h1M330 522.5h1M315 537.5h1M325 525.5h1M329 535.5h1M322 521.5h1M310 522.5h1M318 525.5h1M313 525.5h1M324 525.5h1M326 533.5h1M315 541.5h1M314 524.5h1M309 529.5h1M324 520.5h1M331 540.5h1M304 525.5h1M318 530.5h1M328 542.5h1M311 522.5h1M314 536.5h1M308 534.5h1M327 516.5h1M310 527.5h1M309 524.5h1M323 526.5h1M320 538.5h1M315 521.5h1M324 536.5h1M315 519.5h1M326 530.5h1M316 518.5h1M324 537.5h1M312 526.5h1M303 526.5h1M338 527.5h1M325 532.5h1M307 527.5h1M340 526.5h1M322 522.5h1M331 517.5h1M314 535.5h1M322 540.5h1M337 522.5h1M319 518.5h1M326 524.5h1M324 523.5h1M310 532.5h1M312 539.5h1M333 522.5h1M314 525.5h1M310 540.5h1M311 541.5h1M316 537.5h1M303 543.5h1M326 521.5h1M304 534.5h1M324 526.5h1M325 523.5h1M309 523.5h1M321 530.5h1M325 518.5h1M321 526.5h1M314 538.5h1M324 522.5h1M333 526.5h1M303 546.5h1M323 525.5h1M310 521.5h1M338 532.5h1M328 527.5h1M305 530.5h1M304 536.5h1M328 523.5h1M303 549.5h1M322 529.5h1M336 530.5h1M325 541.5h1M318 529.5h1M331 534.5h1M316 524.5h1M331 536.5h1M303 520.5h1M330 524.5h1M314 522.5h1M334 536.5h1M334 521.5h1M340 528.5h1M311 525.5h1M323 536.5h1M328 517.5h1M307 534.5h1M308 531.5h1M312 524.5h1M303 519.5h1M303 528.5h1M307 544.5h1M328 521.5h1M308 522.5h1M322 543.5h1M307 538.5h1M324 521.5h1M336 535.5h1M323 516.5h1M311 529.5h1M331 524.5h1M322 527.5h1M330 535.5h1M327 533.5h1M313 551.5h1M321 512.5h1M327 528.5h1M306 527.5h1M323 537.5h1M304 527.5h1M321 523.5h1M315 536.5h1M303 551.5h1M314 542.5h1M305 537.5h1M304 540.5h1M310 542.5h1M309 526.5h1M328 529.5h1M320 519.5h1M318 526.5h1M324 535.5h1M313 527.5h1M330 534.5h1M332 529.5h1M320 540.5h1M315 533.5h1M329 531.5h1M326 525.5h1M313 541.5h1M305 536.5h1M332 526.5h1M328 525.5h1M310 520.5h1M323 531.5h1M303 523.5h1M337 538.5h1M332 541.5h1M327 540.5h1M331 518.5h1M309 521.5h1M333 528.5h1M305 524.5h1M327 524.5h1M311 516.5h1M304 544.5h1M306 528.5h1M328 538.5h1M318 518.5h1M335 533.5h1M319 517.5h1M331 527.5h1M334 527.5h1M304 518.5h1M332 518.5h1M339 513.5h1M333 527.5h1M303 539.5h1M327 538.5h1M335 524.5h1M326 531.5h1M340 527.5h1M317 551.5h1M336 529.5h1M348 526.5h1M333 514.5h1M331 519.5h1M303 515.5h1M312 523.5h1M347 524.5h1M332 527.5h1M338 542.5h1M303 552.5h1M334 519.5h1M315 518.5h1M310 550.5h1M321 516.5h1M346 518.5h1M329 519.5h1M316 523.5h1M332 543.5h1M311 546.5h1M336 532.5h1M333 533.5h1M326 517.5h1M307 526.5h1M333 515.5h1M319 540.5h1M303 513.5h1M305 542.5h1M325 513.5h1M305 525.5h1M326 536.5h1M321 531.5h1M310 524.5h1M305 543.5h1M344 522.5h1M314 518.5h1M330 537.5h1M326 538.5h1M307 525.5h1M305 547.5h1M331 532.5h1M342 527.5h1M334 523.5h1M343 531.5h1M317 519.5h1M326 534.5h1M330 531.5h1M341 510.5h1M320 547.5h1M327 520.5h1M312 517.5h1M320 517.5h1M333 544.5h1M317 541.5h1M360 526.5h1M326 545.5h1M303 550.5h1M333 520.5h1M316 542.5h1M336 540.5h1M309 544.5h1M308 537.5h1M328 514.5h1M320 539.5h1M334 511.5h1M325 550.5h1M317 540.5h1M358 531.5h1M306 545.5h1M335 527.5h1M330 519.5h1M336 528.5h1M337 532.5h1M309 546.5h1M349 527.5h1M342 514.5h1M320 541.5h1M335 526.5h1M351 530.5h1M329 517.5h1M332 519.5h1M334 516.5h1M328 515.5h1M332 517.5h1M340 534.5h1M339 519.5h1M341 519.5h1M312 550.5h1M306 525.5h1M340 514.5h1M336 531.5h1M303 557.5h1M307 520.5h1M345 528.5h1M315 545.5h1M314 528.5h1M354 518.5h1M305 548.5h1M311 515.5h1M344 520.5h1M304 550.5h1M322 548.5h1M313 515.5h1M315 514.5h1M324 539.5h1M338 515.5h1M354 527.5h1M311 513.5h1M341 533.5h1M306 536.5h1M324 513.5h1M336 526.5h1M336 524.5h1M324 514.5h1M344 527.5h1M354 531.5h1M317 523.5h1M307 549.5h1M315 544.5h1M311 539.5h1M334 538.5h1M324 542.5h1M329 530.5h1M352 514.5h1M315 520.5h1M314 515.5h1M335 545.5h1M326 539.5h1M319 554.5h1M317 521.5h1M305 544.5h1M311 540.5h1M319 549.5h1M341 524.5h1M319 520.5h1M328 510.5h1M321 518.5h1M345 517.5h1M350 517.5h1M355 528.5h1M350 524.5h1M331 529.5h1M327 514.5h1M338 511.5h1M317 544.5h1M331 535.5h1M329 518.5h1M303 522.5h1M323 520.5h1M320 521.5h1M328 539.5h1M331 547.5h1M352 518.5h1M312 543.5h1M341 530.5h1M342 521.5h1M334 524.5h1M317 545.5h1M307 542.5h1M316 521.5h1M314 540.5h1M336 525.5h1M310 515.5h1M331 531.5h1M335 535.5h1M315 538.5h1M333 530.5h1M320 542.5h1M338 516.5h1M335 519.5h1M307 547.5h1M310 514.5h1M342 529.5h1M339 545.5h1M304 520.5h1M330 527.5h1M338 535.5h1M323 540.5h1M335 532.5h1M335 518.5h1M331 509.5h1M339 523.5h1M354 532.5h1M314 545.5h1M329 528.5h1M326 518.5h1M306 541.5h1M312 518.5h1M311 518.5h1M336 514.5h1M326 548.5h1M324 553.5h1M311 531.5h1M325 555.5h1M358 509.5h1M341 535.5h1M319 522.5h1M329 548.5h1M318 546.5h1M304 521.5h1M304 548.5h1M341 529.5h1M305 528.5h1M337 519.5h1M329 529.5h1M332 534.5h1M336 534.5h1M312 548.5h1M341 517.5h1M361 515.5h1M306 521.5h1M338 534.5h1M332 546.5h1M338 513.5h1M305 541.5h1M353 525.5h1M330 526.5h1M320 515.5h1M328 516.5h1M339 533.5h1M340 520.5h1M335 534.5h1M329 516.5h1M313 508.5h1M313 517.5h1M316 543.5h1M334 543.5h1M343 521.5h1M349 520.5h1M327 541.5h1M327 509.5h1M330 512.5h1M348 529.5h1M341 527.5h1M324 516.5h1M307 545.5h1M316 517.5h1M328 537.5h1M340 535.5h1M328 543.5h1M347 521.5h1M312 519.5h1M303 548.5h1M323 521.5h1M309 538.5h1M337 517.5h1M321 542.5h1M345 519.5h1M333 532.5h1M304 522.5h1M333 519.5h1M349 532.5h1M309 517.5h1M333 542.5h1M376 583.5h1M378 575.5h1M387 574.5h1M380 589.5h1M379 584.5h1M378 576.5h1M383 554.5h1M374 582.5h1M380 571.5h1M369 578.5h1M386 578.5h1M377 578.5h1M385 576.5h1M381 577.5h1M375 579.5h1M386 574.5h1M374 581.5h1M381 575.5h1M379 573.5h1M389 567.5h1M383 568.5h1M381 578.5h1M372 582.5h1M390 578.5h1M387 582.5h1M384 564.5h1M382 584.5h1M384 576.5h1M387 577.5h1M370 586.5h1M386 568.5h1M383 575.5h1M386 575.5h1M379 577.5h1M389 576.5h1M385 579.5h1M373 587.5h1M374 585.5h1M376 565.5h1M373 596.5h1M389 575.5h1M373 585.5h1M372 591.5h1M386 577.5h1M380 581.5h1M378 583.5h1M392 571.5h1M369 573.5h1M390 565.5h1M378 578.5h1M385 575.5h1M376 586.5h1M393 560.5h1M381 573.5h1M381 576.5h1M384 568.5h1M373 575.5h1M385 572.5h1M372 584.5h1M380 574.5h1M386 570.5h1M373 573.5h1M382 571.5h1M382 581.5h1M399 563.5h1M380 570.5h1M385 564.5h1M390 579.5h1M371 575.5h1M386 576.5h1M394 571.5h1M372 576.5h1M379 578.5h1M369 580.5h1M377 581.5h1M384 567.5h1M367 585.5h1M385 568.5h1M376 578.5h1M384 569.5h1M377 580.5h1M378 571.5h1M376 581.5h1M387 569.5h1M377 583.5h1M381 586.5h1M384 575.5h1M373 583.5h1M376 571.5h1M375 575.5h1M383 567.5h1M382 588.5h1M398 569.5h1M379 585.5h1M381 567.5h1M377 577.5h1M388 567.5h1M379 589.5h1M384 572.5h1M379 580.5h1M393 580.5h1M378 582.5h1M371 587.5h1M376 572.5h1M370 591.5h1M383 585.5h1M368 588.5h1M374 587.5h1M381 574.5h1M385 567.5h1M372 563.5h1M378 570.5h1M370 579.5h1M379 582.5h1M382 578.5h1M382 575.5h1M390 575.5h1M393 587.5h1M394 562.5h1M392 570.5h1M383 582.5h1M376 579.5h1M383 574.5h1M374 583.5h1M387 571.5h1M378 579.5h1M385 578.5h1M395 575.5h1M387 575.5h1M381 579.5h1M392 573.5h1M385 574.5h1M387 570.5h1M393 575.5h1M376 569.5h1M390 571.5h1M380 576.5h1M390 576.5h1M391 572.5h1M368 582.5h1M383 573.5h1M392 567.5h1M384 579.5h1M386 580.5h1M379 570.5h1M383 571.5h1M377 573.5h1M389 577.5h1M389 574.5h1M380 577.5h1M378 572.5h1M389 572.5h1M386 571.5h1M374 577.5h1M390 568.5h1M378 581.5h1M367 591.5h1M389 578.5h1M371 584.5h1M372 579.5h1M376 574.5h1M375 578.5h1M385 566.5h1M378 584.5h1M388 573.5h1M372 583.5h1M383 579.5h1M388 578.5h1M360 594.5h1M385 552.5h1M379 575.5h1M382 573.5h1M392 572.5h1M380 575.5h1M396 571.5h1M393 563.5h1M363 593.5h1M383 563.5h1M384 562.5h1M376 570.5h1M378 593.5h1M376 582.5h1M381 572.5h1M377 568.5h1M390 572.5h1M380 582.5h1M385 573.5h1M375 565.5h1M377 575.5h1M382 579.5h1M386 564.5h1M388 574.5h1M380 584.5h1M383 570.5h1M379 574.5h1M373 574.5h1M399 564.5h1M383 572.5h1M392 586.5h1M394 569.5h1M389 583.5h1M392 569.5h1M394 577.5h1M380 585.5h1M373 580.5h1M375 577.5h1M394 585.5h1M381 590.5h1M383 586.5h1M392 577.5h1M392 581.5h1M371 585.5h1M381 585.5h1M366 579.5h1M384 583.5h1M383 584.5h1M370 589.5h1M388 561.5h1M380 562.5h1M390 585.5h1M388 570.5h1M363 597.5h1M391 568.5h1M399 562.5h1M385 565.5h1M379 581.5h1M385 569.5h1M391 567.5h1M390 573.5h1M375 576.5h1M388 565.5h1M381 580.5h1M379 576.5h1M383 577.5h1M394 574.5h1M378 577.5h1M366 581.5h1M368 587.5h1M377 579.5h1M384 578.5h1M380 583.5h1M386 573.5h1M385 577.5h1M377 586.5h1M369 592.5h1M385 555.5h1M371 588.5h1M382 555.5h1M363 594.5h1M381 581.5h1M387 583.5h1M384 574.5h1M383 587.5h1M383 569.5h1M389 582.5h1M383 565.5h1M385 583.5h1M388 576.5h1M380 572.5h1M383 581.5h1M380 586.5h1M388 580.5h1M387 581.5h1M382 582.5h1M377 587.5h1M391 571.5h1M376 587.5h1M384 565.5h1M402 572.5h1M398 573.5h1M375 582.5h1M387 587.5h1M380 579.5h1" stroke="#1c1c1c" stroke-width="1" fill="none"/>
<path d="M304 545.5h1M303 517.5h1M361 588.5h1M375 590.5h1M395 546.5h1M390 583.5h1M397 564.5h1M372 571.5h1M374 571.5h1M391 558.5h1M369 581.5h1M381 591.5h1M386 565.5h1M365 588.5h1M369 596.5h1M369 563.5h1M392 559.5h1M397 596.5h1M389 594.5h1M375 554.5h1M379 562.5h1M387 568.5h1M387 595.5h1M386 590.5h1M394 586.5h1M397 558.5h1M380 580.5h1M368 577.5h1M367 586.5h1M401 558.5h1M374 578.5h1M365 573.5h1M381 583.5h1M374 546.5h1M374 584.5h1M396 562.5h1M386 569.5h1M368 604.5h1M389 570.5h1M357 577.5h1M382 563.5h1M388 571.5h1M413 566.5h1M393 596.5h1M346 594.5h1M379 586.5h1M366 592.5h1M377 592.5h1M377 558.5h1M371 578.5h1M392 582.5h1M375 541.5h1M395 578.5h1M378 604.5h1M383 592.5h1M383 562.5h1M362 598.5h1M382 574.5h1M367 577.5h1M371 586.5h1M356 584.5h1M363 578.5h1M393 566.5h1M385 563.5h1M378 566.5h1M384 590.5h1M393 582.5h1M374 589.5h1M387 585.5h1M386 567.5h1M388 557.5h1M376 590.5h1M355 567.5h1M359 604.5h1M383 564.5h1M361 580.5h1M371 567.5h1M374 574.5h1M383 558.5h1M363 596.5h1M379 579.5h1M387 554.5h1M371 599.5h1M378 567.5h1M367 566.5h1M391 562.5h1M372 595.5h1M386 526.5h1M386 532.5h1M349 523.5h1M389 528.5h1M379 525.5h1M387 527.5h1M374 530.5h1M390 526.5h1M344 526.5h1M373 531.5h1M374 531.5h1M375 529.5h1M384 530.5h1M361 529.5h1M365 524.5h1M377 533.5h1M370 527.5h1M379 533.5h1M378 526.5h1M389 523.5h1M378 531.5h1M375 524.5h1M370 522.5h1M369 531.5h1M388 527.5h1M382 528.5h1M380 529.5h1M399 524.5h1M378 525.5h1M388 529.5h1M381 526.5h1M373 530.5h1M377 528.5h1M375 534.5h1M380 524.5h1M380 521.5h1M388 528.5h1M372 525.5h1M375 533.5h1M380 528.5h1M377 525.5h1M381 520.5h1M372 527.5h1M374 521.5h1M304 570.5h1M342 604.5h1M361 548.5h1M337 604.5h1M340 595.5h1M325 598.5h1M331 577.5h1M337 562.5h1M318 604.5h1M304 582.5h1M323 576.5h1M366 575.5h1M308 581.5h1M313 580.5h1M347 596.5h1M350 544.5h1M370 547.5h1M336 600.5h1M339 582.5h1M311 565.5h1M303 600.5h1M324 590.5h1M346 551.5h1M327 578.5h1M347 560.5h1M359 564.5h1M317 567.5h1M334 604.5h1M347 551.5h1M332 563.5h1M332 573.5h1M355 575.5h1M348 576.5h1M363 564.5h1M321 586.5h1M346 565.5h1M319 546.5h1M385 589.5h1M361 604.5h1M325 575.5h1M335 566.5h1M343 569.5h1M330 570.5h1M335 555.5h1M336 578.5h1M329 598.5h1M337 584.5h1M365 581.5h1M322 585.5h1M371 570.5h1M330 587.5h1M365 571.5h1M325 560.5h1M355 593.5h1M362 557.5h1M328 598.5h1M360 581.5h1M329 581.5h1M327 561.5h1M307 567.5h1M362 558.5h1M351 571.5h1M329 578.5h1M312 547.5h1M331 593.5h1M354 550.5h1M340 581.5h1M307 565.5h1M328 587.5h1M348 598.5h1M352 604.5h1M303 580.5h1M303 553.5h1M322 558.5h1M316 550.5h1M329 577.5h1M311 555.5h1M332 584.5h1M311 587.5h1M331 588.5h1M352 576.5h1M319 567.5h1M367 604.5h1M360 573.5h1M354 602.5h1M316 559.5h1M332 575.5h1M349 569.5h1M345 584.5h1M327 554.5h1M322 600.5h1M325 561.5h1M319 565.5h1M341 556.5h1M346 563.5h1M346 569.5h1M312 578.5h1M372 553.5h1M357 569.5h1M331 570.5h1M326 557.5h1M326 588.5h1M314 568.5h1" stroke="#4a4a4a" stroke-width="1" fill="none"/>
<text transform="translate(0.50 673.00) scale(0.95 1)" font-size="25" text-anchor="start" font-weight="bold" stroke="#111" stroke-width="0.4">D</text>
<rect x="36.50" y="698.50" width="108.00" height="98.00" fill="none" stroke="#0a0a0a" stroke-width="1.1"/>
<line x1="36.20" y1="782.50" x2="144.30" y2="782.50" stroke="#0a0a0a" stroke-width="1.2"/>
<text x="89.60" y="680.80" font-size="11.5" text-anchor="middle" font-weight="bold">effectors:&#160; F14</text>
<text x="89.60" y="692.30" font-size="11.5" text-anchor="middle" font-weight="bold">targets:&#160; F14</text>
<line x1="33.20" y1="796.50" x2="36.20" y2="796.50" stroke="#0a0a0a" stroke-width="1.1"/>
<text x="31.20" y="800.62" font-size="9.8" text-anchor="end" font-weight="bold">-10</text>
<line x1="33.20" y1="782.50" x2="36.20" y2="782.50" stroke="#0a0a0a" stroke-width="1.1"/>
<text x="31.20" y="786.60" font-size="9.8" text-anchor="end" font-weight="bold">0</text>
<line x1="33.20" y1="768.50" x2="36.20" y2="768.50" stroke="#0a0a0a" stroke-width="1.1"/>
<text x="31.20" y="772.58" font-size="9.8" text-anchor="end" font-weight="bold">10</text>
<line x1="33.20" y1="754.50" x2="36.20" y2="754.50" stroke="#0a0a0a" stroke-width="1.1"/>
<text x="31.20" y="758.56" font-size="9.8" text-anchor="end" font-weight="bold">20</text>
<line x1="33.20" y1="740.50" x2="36.20" y2="740.50" stroke="#0a0a0a" stroke-width="1.1"/>
<text x="31.20" y="744.54" font-size="9.8" text-anchor="end" font-weight="bold">30</text>
<line x1="33.20" y1="726.50" x2="36.20" y2="726.50" stroke="#0a0a0a" stroke-width="1.1"/>
<text x="31.20" y="730.52" font-size="9.8" text-anchor="end" font-weight="bold">40</text>
<line x1="33.20" y1="712.50" x2="36.20" y2="712.50" stroke="#0a0a0a" stroke-width="1.1"/>
<text x="31.20" y="716.50" font-size="9.8" text-anchor="end" font-weight="bold">50</text>
<line x1="33.20" y1="697.50" x2="36.20" y2="697.50" stroke="#0a0a0a" stroke-width="1.1"/>
<text x="31.20" y="702.48" font-size="9.8" text-anchor="end" font-weight="bold">60</text>
<text x="47.80" y="816.00" font-size="11" text-anchor="middle" font-weight="bold">10</text>
<text x="68.00" y="816.00" font-size="11" text-anchor="middle" font-weight="bold">5</text>
<text x="89.10" y="816.00" font-size="11" text-anchor="middle" font-weight="bold">2.5</text>
<text x="110.80" y="816.00" font-size="11" text-anchor="middle" font-weight="bold">1.2</text>
<text x="132.20" y="816.00" font-size="11" text-anchor="middle" font-weight="bold">0.6</text>
<polyline fill="none" stroke="#0a0a0a" stroke-width="1.3" points="46.40,702.70 69.00,710.30 90.20,726.90 111.40,749.30 134.10,756.90"/>
<polyline fill="none" stroke="#0a0a0a" stroke-width="1.3" points="46.40,753.50 69.00,762.20 90.20,770.10 111.40,774.90 134.10,780.70"/>
<path d="M46.40 699.30L49.80 702.70L46.40 706.10L43.00 702.70Z" fill="#000"/>
<path d="M69.00 706.90L72.40 710.30L69.00 713.70L65.60 710.30Z" fill="#000"/>
<path d="M90.20 723.50L93.60 726.90L90.20 730.30L86.80 726.90Z" fill="#000"/>
<path d="M111.40 745.90L114.80 749.30L111.40 752.70L108.00 749.30Z" fill="#000"/>
<path d="M134.10 753.50L137.50 756.90L134.10 760.30L130.70 756.90Z" fill="#000"/>
<rect x="43.50" y="751.50" width="5" height="5" fill="#fff" stroke="#0a0a0a" stroke-width="1.2"/>
<rect x="66.50" y="759.50" width="5" height="5" fill="#fff" stroke="#0a0a0a" stroke-width="1.2"/>
<rect x="87.50" y="767.50" width="5" height="5" fill="#fff" stroke="#0a0a0a" stroke-width="1.2"/>
<rect x="108.50" y="772.50" width="5" height="5" fill="#fff" stroke="#0a0a0a" stroke-width="1.2"/>
<rect x="131.50" y="778.50" width="5" height="5" fill="#fff" stroke="#0a0a0a" stroke-width="1.2"/>
<rect x="157.50" y="698.50" width="111.00" height="98.00" fill="none" stroke="#0a0a0a" stroke-width="1.1"/>
<line x1="157.90" y1="782.50" x2="268.30" y2="782.50" stroke="#0a0a0a" stroke-width="1.2"/>
<text x="213.00" y="680.80" font-size="11.5" text-anchor="middle" font-weight="bold">effectors:&#160; F14</text>
<text x="213.00" y="692.30" font-size="11.5" text-anchor="middle" font-weight="bold">targets:&#160; F22</text>
<line x1="156.40" y1="796.50" x2="158.90" y2="796.50" stroke="#0a0a0a" stroke-width="1.0"/>
<line x1="156.40" y1="782.50" x2="158.90" y2="782.50" stroke="#0a0a0a" stroke-width="1.0"/>
<line x1="156.40" y1="768.50" x2="158.90" y2="768.50" stroke="#0a0a0a" stroke-width="1.0"/>
<line x1="156.40" y1="754.50" x2="158.90" y2="754.50" stroke="#0a0a0a" stroke-width="1.0"/>
<line x1="156.40" y1="740.50" x2="158.90" y2="740.50" stroke="#0a0a0a" stroke-width="1.0"/>
<line x1="156.40" y1="726.50" x2="158.90" y2="726.50" stroke="#0a0a0a" stroke-width="1.0"/>
<line x1="156.40" y1="712.50" x2="158.90" y2="712.50" stroke="#0a0a0a" stroke-width="1.0"/>
<line x1="156.40" y1="697.50" x2="158.90" y2="697.50" stroke="#0a0a0a" stroke-width="1.0"/>
<text x="168.00" y="816.00" font-size="11" text-anchor="middle" font-weight="bold">10</text>
<text x="188.70" y="816.00" font-size="11" text-anchor="middle" font-weight="bold">5</text>
<text x="211.30" y="816.00" font-size="11" text-anchor="middle" font-weight="bold">2.5</text>
<text x="232.90" y="816.00" font-size="11" text-anchor="middle" font-weight="bold">1.2</text>
<text x="256.00" y="816.00" font-size="11" text-anchor="middle" font-weight="bold">0.6</text>
<polyline fill="none" stroke="#0a0a0a" stroke-width="1.3" points="168.75,785.75 191.25,790.75 213.00,793.25 235.00,790.50 256.75,790.50"/>
<polyline fill="none" stroke="#0a0a0a" stroke-width="1.3" points="168.75,783.75 191.25,782.00 213.00,786.50 235.00,788.25 256.75,789.25"/>
<path d="M168.75 782.35L172.15 785.75L168.75 789.15L165.35 785.75Z" fill="#000"/>
<path d="M191.25 787.35L194.65 790.75L191.25 794.15L187.85 790.75Z" fill="#000"/>
<path d="M213.00 789.85L216.40 793.25L213.00 796.65L209.60 793.25Z" fill="#000"/>
<path d="M235.00 787.10L238.40 790.50L235.00 793.90L231.60 790.50Z" fill="#000"/>
<path d="M256.75 787.10L260.15 790.50L256.75 793.90L253.35 790.50Z" fill="#000"/>
<rect x="166.50" y="781.50" width="5" height="5" fill="#fff" stroke="#0a0a0a" stroke-width="1.2"/>
<rect x="188.50" y="779.50" width="5" height="5" fill="#fff" stroke="#0a0a0a" stroke-width="1.2"/>
<rect x="210.50" y="784.50" width="5" height="5" fill="#fff" stroke="#0a0a0a" stroke-width="1.2"/>
<rect x="232.50" y="785.50" width="5" height="5" fill="#fff" stroke="#0a0a0a" stroke-width="1.2"/>
<rect x="254.50" y="786.50" width="5" height="5" fill="#fff" stroke="#0a0a0a" stroke-width="1.2"/>
<rect x="283.50" y="698.50" width="107.00" height="98.00" fill="none" stroke="#0a0a0a" stroke-width="1.1"/>
<line x1="283.50" y1="782.50" x2="390.60" y2="782.50" stroke="#0a0a0a" stroke-width="1.2"/>
<text x="337.50" y="680.80" font-size="11.5" text-anchor="middle" font-weight="bold">effectors:&#160; F22</text>
<text x="337.50" y="692.30" font-size="11.5" text-anchor="middle" font-weight="bold">targets:&#160; F22</text>
<line x1="282.00" y1="796.50" x2="284.50" y2="796.50" stroke="#0a0a0a" stroke-width="1.0"/>
<line x1="282.00" y1="782.50" x2="284.50" y2="782.50" stroke="#0a0a0a" stroke-width="1.0"/>
<line x1="282.00" y1="768.50" x2="284.50" y2="768.50" stroke="#0a0a0a" stroke-width="1.0"/>
<line x1="282.00" y1="754.50" x2="284.50" y2="754.50" stroke="#0a0a0a" stroke-width="1.0"/>
<line x1="282.00" y1="740.50" x2="284.50" y2="740.50" stroke="#0a0a0a" stroke-width="1.0"/>
<line x1="282.00" y1="726.50" x2="284.50" y2="726.50" stroke="#0a0a0a" stroke-width="1.0"/>
<line x1="282.00" y1="712.50" x2="284.50" y2="712.50" stroke="#0a0a0a" stroke-width="1.0"/>
<line x1="282.00" y1="697.50" x2="284.50" y2="697.50" stroke="#0a0a0a" stroke-width="1.0"/>
<text x="293.60" y="816.00" font-size="11" text-anchor="middle" font-weight="bold">8</text>
<text x="311.80" y="816.00" font-size="11" text-anchor="middle" font-weight="bold">4</text>
<text x="328.70" y="816.00" font-size="11" text-anchor="middle" font-weight="bold">2</text>
<text x="343.10" y="816.00" font-size="11" text-anchor="middle" font-weight="bold">1</text>
<text x="362.80" y="816.00" font-size="11" text-anchor="middle" font-weight="bold">0.5</text>
<text x="387.30" y="816.00" font-size="11" text-anchor="middle" font-weight="bold">0.25</text>
<polyline fill="none" stroke="#0a0a0a" stroke-width="1.3" points="291.80,708.50 310.40,716.00 328.00,726.80 346.00,736.20 363.40,754.20 381.70,766.40"/>
<polyline fill="none" stroke="#0a0a0a" stroke-width="1.3" points="291.80,748.20 310.40,759.20 328.00,764.00 346.00,772.70 363.40,777.30 381.70,777.30"/>
<path d="M291.80 705.10L295.20 708.50L291.80 711.90L288.40 708.50Z" fill="#000"/>
<path d="M310.40 712.60L313.80 716.00L310.40 719.40L307.00 716.00Z" fill="#000"/>
<path d="M328.00 723.40L331.40 726.80L328.00 730.20L324.60 726.80Z" fill="#000"/>
<path d="M346.00 732.80L349.40 736.20L346.00 739.60L342.60 736.20Z" fill="#000"/>
<path d="M363.40 750.80L366.80 754.20L363.40 757.60L360.00 754.20Z" fill="#000"/>
<path d="M381.70 763.00L385.10 766.40L381.70 769.80L378.30 766.40Z" fill="#000"/>
<rect x="289.50" y="745.50" width="5" height="5" fill="#fff" stroke="#0a0a0a" stroke-width="1.2"/>
<rect x="307.50" y="756.50" width="5" height="5" fill="#fff" stroke="#0a0a0a" stroke-width="1.2"/>
<rect x="325.50" y="761.50" width="5" height="5" fill="#fff" stroke="#0a0a0a" stroke-width="1.2"/>
<rect x="343.50" y="770.50" width="5" height="5" fill="#fff" stroke="#0a0a0a" stroke-width="1.2"/>
<rect x="360.50" y="774.50" width="5" height="5" fill="#fff" stroke="#0a0a0a" stroke-width="1.2"/>
<rect x="379.50" y="774.50" width="5" height="5" fill="#fff" stroke="#0a0a0a" stroke-width="1.2"/>
<rect x="405.50" y="698.50" width="106.00" height="98.00" fill="none" stroke="#0a0a0a" stroke-width="1.1"/>
<line x1="405.30" y1="782.50" x2="511.00" y2="782.50" stroke="#0a0a0a" stroke-width="1.2"/>
<text x="459.00" y="680.80" font-size="11.5" text-anchor="middle" font-weight="bold">effectors:&#160; F22</text>
<text x="459.00" y="692.30" font-size="11.5" text-anchor="middle" font-weight="bold">targets:&#160; F14</text>
<line x1="403.80" y1="796.50" x2="406.30" y2="796.50" stroke="#0a0a0a" stroke-width="1.0"/>
<line x1="403.80" y1="782.50" x2="406.30" y2="782.50" stroke="#0a0a0a" stroke-width="1.0"/>
<line x1="403.80" y1="768.50" x2="406.30" y2="768.50" stroke="#0a0a0a" stroke-width="1.0"/>
<line x1="403.80" y1="754.50" x2="406.30" y2="754.50" stroke="#0a0a0a" stroke-width="1.0"/>
<line x1="403.80" y1="740.50" x2="406.30" y2="740.50" stroke="#0a0a0a" stroke-width="1.0"/>
<line x1="403.80" y1="726.50" x2="406.30" y2="726.50" stroke="#0a0a0a" stroke-width="1.0"/>
<line x1="403.80" y1="712.50" x2="406.30" y2="712.50" stroke="#0a0a0a" stroke-width="1.0"/>
<line x1="403.80" y1="697.50" x2="406.30" y2="697.50" stroke="#0a0a0a" stroke-width="1.0"/>
<text x="412.80" y="816.00" font-size="11" text-anchor="middle" font-weight="bold">8</text>
<text x="431.00" y="816.00" font-size="11" text-anchor="middle" font-weight="bold">4</text>
<text x="448.40" y="816.00" font-size="11" text-anchor="middle" font-weight="bold">2</text>
<text x="463.50" y="816.00" font-size="11" text-anchor="middle" font-weight="bold">1</text>
<text x="482.50" y="816.00" font-size="11" text-anchor="middle" font-weight="bold">0.5</text>
<text x="506.50" y="816.00" font-size="11" text-anchor="middle" font-weight="bold">0.25</text>
<polyline fill="none" stroke="#0a0a0a" stroke-width="1.3" points="413.75,781.30 431.00,784.50 448.60,786.90 466.20,786.90 483.70,787.60 501.00,786.40"/>
<polyline fill="none" stroke="#0a0a0a" stroke-width="1.3" points="413.75,773.20 431.00,776.10 448.60,782.10 466.20,780.90 483.70,778.00 501.00,783.75"/>
<path d="M413.75 777.90L417.15 781.30L413.75 784.70L410.35 781.30Z" fill="#000"/>
<path d="M431.00 781.10L434.40 784.50L431.00 787.90L427.60 784.50Z" fill="#000"/>
<path d="M448.60 783.50L452.00 786.90L448.60 790.30L445.20 786.90Z" fill="#000"/>
<path d="M466.20 783.50L469.60 786.90L466.20 790.30L462.80 786.90Z" fill="#000"/>
<path d="M483.70 784.20L487.10 787.60L483.70 791.00L480.30 787.60Z" fill="#000"/>
<path d="M501.00 783.00L504.40 786.40L501.00 789.80L497.60 786.40Z" fill="#000"/>
<rect x="411.50" y="770.50" width="5" height="5" fill="#fff" stroke="#0a0a0a" stroke-width="1.2"/>
<rect x="428.50" y="773.50" width="5" height="5" fill="#fff" stroke="#0a0a0a" stroke-width="1.2"/>
<rect x="446.50" y="779.50" width="5" height="5" fill="#fff" stroke="#0a0a0a" stroke-width="1.2"/>
<rect x="463.50" y="778.50" width="5" height="5" fill="#fff" stroke="#0a0a0a" stroke-width="1.2"/>
<rect x="481.50" y="775.50" width="5" height="5" fill="#fff" stroke="#0a0a0a" stroke-width="1.2"/>
<rect x="498.50" y="781.50" width="5" height="5" fill="#fff" stroke="#0a0a0a" stroke-width="1.2"/>
<text x="11.50" y="747.00" font-size="11.5" text-anchor="middle" font-weight="bold" transform="rotate(-90 11.50 747.00)">% specific lysis</text>
<text x="270.90" y="829.60" font-size="11.6" text-anchor="middle" font-weight="bold">effector-target ratio</text>
</svg>
</body></html>
